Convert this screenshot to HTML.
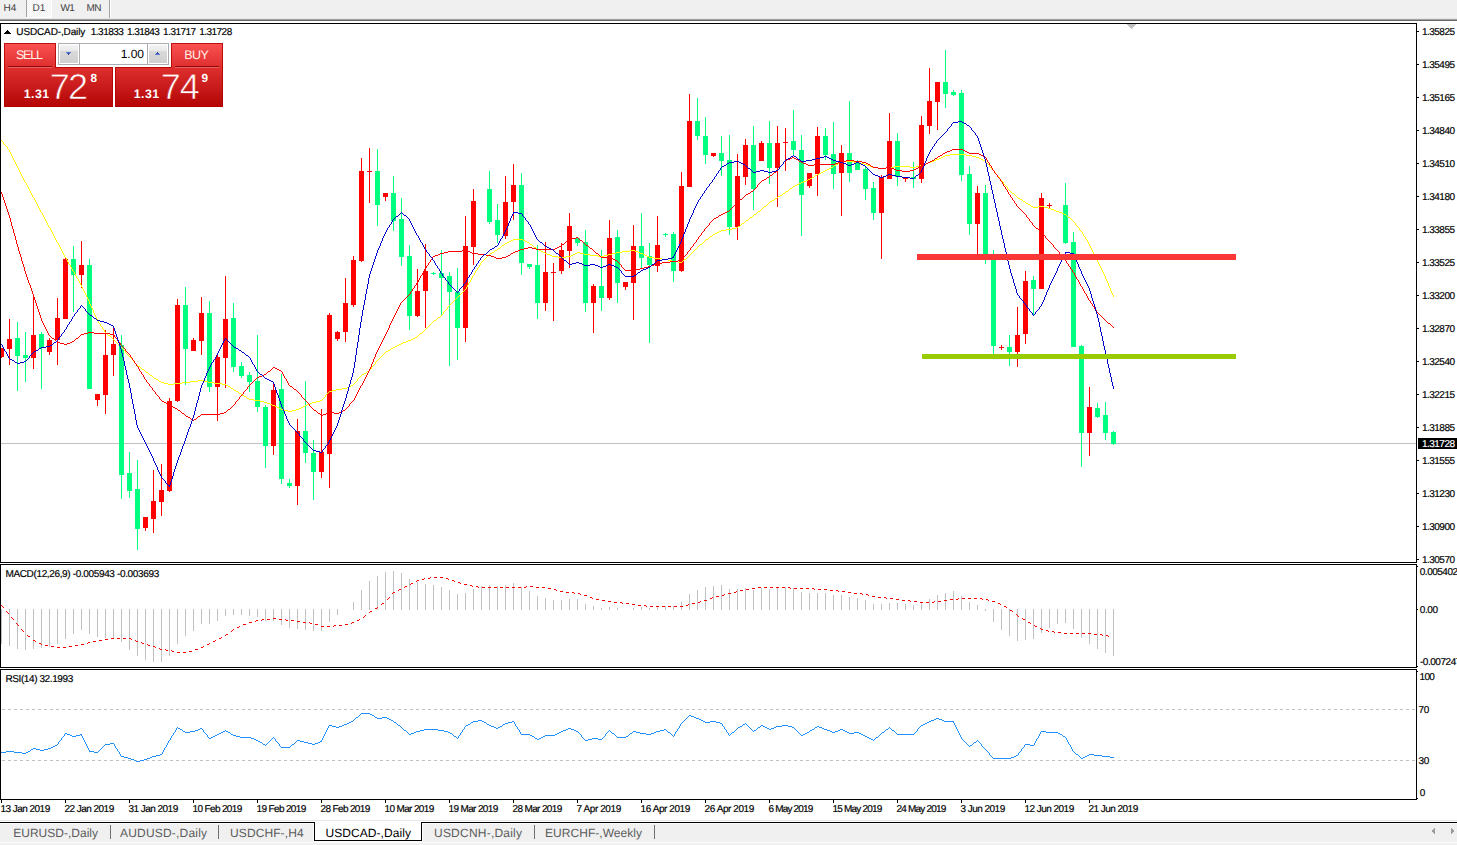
<!DOCTYPE html>
<html lang="en"><head><meta charset="utf-8"><title>USDCAD-,Daily</title>
<style>html,body{margin:0;padding:0;background:#fff;overflow:hidden}body{width:1457px;height:845px;position:relative}svg{position:absolute;left:0;top:0;display:block}text{font-family:"Liberation Sans",sans-serif;white-space:pre;text-rendering:geometricPrecision}.c{shape-rendering:crispEdges}</style></head><body>
<svg width="1457" height="845" viewBox="0 0 1457 845">
<defs><linearGradient id="gr" x1="0" y1="43" x2="0" y2="107" gradientUnits="userSpaceOnUse"><stop offset="0" stop-color="#fb5252"/><stop offset="0.36" stop-color="#e03030"/><stop offset="0.7" stop-color="#c81a1a"/><stop offset="1" stop-color="#b40404"/></linearGradient><linearGradient id="gb" x1="0" y1="0" x2="0" y2="1"><stop offset="0" stop-color="#f3f3f3"/><stop offset="0.33" stop-color="#e9e9e9"/><stop offset="0.33" stop-color="#d9d9d9"/><stop offset="1" stop-color="#d0d0d0"/></linearGradient><pattern id="chk" width="2" height="2" patternUnits="userSpaceOnUse"><rect width="2" height="2" fill="#f0f0f0"/><rect width="1" height="1" fill="#fff"/><rect x="1" y="1" width="1" height="1" fill="#fff"/></pattern></defs>
<g class="c">
<rect x="0" y="0" width="1457" height="845" fill="#fff" />
<rect x="0" y="0" width="1457" height="18" fill="#f0f0f0" />
<rect x="0" y="18" width="1457" height="1" fill="#e6e6e6" />
<rect x="0" y="19" width="1457" height="1" fill="#a0a0a0" />
<rect x="0" y="20" width="1457" height="1" fill="#696969" />
<rect x="27" y="0" width="24" height="17" fill="url(#chk)" />
<rect x="26" y="0" width="1" height="17" fill="#a0a0a0" />
<rect x="26" y="17" width="26" height="1" fill="#fff" />
<rect x="51" y="0" width="1" height="17" fill="#fff" />
<rect x="109" y="0" width="1" height="18" fill="#a0a0a0" />
<rect x="110" y="0" width="1" height="18" fill="#fff" />
<rect x="0" y="23" width="1417" height="1" fill="#000" />
<rect x="0" y="23" width="1" height="540" fill="#000" />
<rect x="0" y="562" width="1417" height="1" fill="#000" />
<rect x="1416" y="23" width="1" height="540" fill="#000" />
<rect x="1416" y="564" width="1" height="104" fill="#000" />
<rect x="1416" y="669" width="1" height="131" fill="#000" />
<rect x="0" y="564" width="1417" height="1" fill="#000" />
<rect x="0" y="564" width="1" height="104" fill="#000" />
<rect x="0" y="667" width="1417" height="1" fill="#000" />
<rect x="0" y="669" width="1417" height="1" fill="#000" />
<rect x="0" y="669" width="1" height="131" fill="#000" />
<rect x="0" y="799" width="1417" height="1" fill="#000" />
<path d="M1127 24h9v1h-1v1h-1v1h-1v1h-1v1h-1v-1h-1v-1h-1v-1h-1v-1h-1z" fill="#c0c0c0"/>
<rect x="1417" y="31" width="2" height="1" fill="#000" />
<rect x="1417" y="64" width="2" height="1" fill="#000" />
<rect x="1417" y="97" width="2" height="1" fill="#000" />
<rect x="1417" y="130" width="2" height="1" fill="#000" />
<rect x="1417" y="163" width="2" height="1" fill="#000" />
<rect x="1417" y="196" width="2" height="1" fill="#000" />
<rect x="1417" y="229" width="2" height="1" fill="#000" />
<rect x="1417" y="262" width="2" height="1" fill="#000" />
<rect x="1417" y="295" width="2" height="1" fill="#000" />
<rect x="1417" y="328" width="2" height="1" fill="#000" />
<rect x="1417" y="361" width="2" height="1" fill="#000" />
<rect x="1417" y="394" width="2" height="1" fill="#000" />
<rect x="1417" y="427" width="2" height="1" fill="#000" />
<rect x="1417" y="460" width="2" height="1" fill="#000" />
<rect x="1417" y="493" width="2" height="1" fill="#000" />
<rect x="1417" y="526" width="2" height="1" fill="#000" />
<rect x="1417" y="559" width="2" height="1" fill="#000" />
<rect x="1417" y="566" width="1" height="1" fill="#000" />
<rect x="1417" y="609" width="1" height="1" fill="#000" />
<rect x="1417" y="666" width="1" height="1" fill="#000" />
<rect x="1417" y="671" width="1" height="1" fill="#000" />
<rect x="1417" y="798" width="1" height="1" fill="#000" />
<rect x="1" y="800" width="1" height="3" fill="#000" />
<rect x="65" y="800" width="1" height="3" fill="#000" />
<rect x="129" y="800" width="1" height="3" fill="#000" />
<rect x="193" y="800" width="1" height="3" fill="#000" />
<rect x="257" y="800" width="1" height="3" fill="#000" />
<rect x="321" y="800" width="1" height="3" fill="#000" />
<rect x="385" y="800" width="1" height="3" fill="#000" />
<rect x="449" y="800" width="1" height="3" fill="#000" />
<rect x="513" y="800" width="1" height="3" fill="#000" />
<rect x="577" y="800" width="1" height="3" fill="#000" />
<rect x="641" y="800" width="1" height="3" fill="#000" />
<rect x="705" y="800" width="1" height="3" fill="#000" />
<rect x="769" y="800" width="1" height="3" fill="#000" />
<rect x="833" y="800" width="1" height="3" fill="#000" />
<rect x="897" y="800" width="1" height="3" fill="#000" />
<rect x="961" y="800" width="1" height="3" fill="#000" />
<rect x="1025" y="800" width="1" height="3" fill="#000" />
<rect x="1089" y="800" width="1" height="3" fill="#000" />
<rect x="1" y="443" width="1415" height="1" fill="#c0c0c0" />
<path d="M2 709.5H1416" stroke="#c0c0c0" stroke-width="1" stroke-dasharray="3 3" fill="none"/>
<path d="M2 760.5H1416" stroke="#c0c0c0" stroke-width="1" stroke-dasharray="3 3" fill="none"/>
<path d="M1 609v35h1v-35zM9 609v37h1v-37zM17 609v40h1v-40zM25 609v41h1v-41zM33 609v40h1v-40zM41 609v39h1v-39zM49 609v38h1v-38zM57 609v35h1v-35zM65 609v30h1v-30zM73 609v25h1v-25zM81 609v21h1v-21zM89 609v25h1v-25zM97 609v28h1v-28zM105 609v29h1v-29zM113 609v29h1v-29zM121 609v33h1v-33zM129 609v41h1v-41zM137 609v47h1v-47zM145 609v51h1v-51zM153 609v53h1v-53zM161 609v53h1v-53zM169 609v47h1v-47zM177 609v35h1v-35zM185 609v27h1v-27zM193 609v22h1v-22zM201 609v15h1v-15zM209 609v15h1v-15zM217 609v12h1v-12zM225 609v7h1v-7zM233 609v6h1v-6zM241 609v6h1v-6zM249 609v7h1v-7zM257 609v8h1v-8zM265 609v12h1v-12zM273 609v12h1v-12zM281 609v16h1v-16zM289 609v19h1v-19zM297 609v20h1v-20zM305 609v21h1v-21zM313 609v22h1v-22zM321 609v22h1v-22zM329 609v13h1v-13zM337 609v6h1v-6zM353 602v8h1v-8zM361 590v20h1v-20zM369 581v29h1v-29zM377 576v34h1v-34zM385 572v38h1v-38zM393 571v39h1v-39zM401 573v37h1v-37zM409 579v31h1v-31zM417 582v28h1v-28zM425 584v26h1v-26zM433 585v25h1v-25zM441 587v23h1v-23zM449 590v20h1v-20zM457 594v16h1v-16zM465 593v17h1v-17zM473 589v21h1v-21zM481 586v24h1v-24zM489 585v25h1v-25zM497 586v24h1v-24zM505 585v25h1v-25zM513 583v27h1v-27zM521 587v23h1v-23zM529 591v19h1v-19zM537 596v14h1v-14zM545 598v12h1v-12zM553 600v10h1v-10zM561 600v10h1v-10zM569 599v11h1v-11zM577 599v11h1v-11zM585 604v6h1v-6zM593 606v4h1v-4zM601 608v2h1v-2zM609 607v3h1v-3zM617 608v2h1v-2zM633 608v2h1v-2zM641 607v3h1v-3zM649 608v2h1v-2zM657 607v3h1v-3zM665 606v4h1v-4zM673 606v4h1v-4zM681 602v8h1v-8zM689 594v16h1v-16zM697 590v20h1v-20zM705 587v23h1v-23zM713 586v24h1v-24zM721 585v25h1v-25zM729 589v21h1v-21zM737 589v21h1v-21zM745 588v22h1v-22zM753 590v20h1v-20zM761 588v22h1v-22zM769 589v21h1v-21zM777 588v22h1v-22zM785 587v23h1v-23zM793 588v22h1v-22zM801 592v18h1v-18zM809 593v17h1v-17zM817 593v17h1v-17zM825 593v17h1v-17zM833 595v15h1v-15zM841 595v15h1v-15zM849 597v13h1v-13zM857 598v12h1v-12zM865 600v10h1v-10zM873 604v6h1v-6zM881 604v6h1v-6zM889 603v7h1v-7zM897 603v7h1v-7zM905 604v6h1v-6zM913 605v5h1v-5zM921 602v8h1v-8zM929 599v11h1v-11zM937 595v15h1v-15zM945 593v17h1v-17zM953 591v19h1v-19zM961 596v14h1v-14zM969 602v8h1v-8zM977 605v5h1v-5zM985 609v2h1v-2zM993 609v13h1v-13zM1001 609v21h1v-21zM1009 609v27h1v-27zM1017 609v32h1v-32zM1025 609v31h1v-31zM1033 609v30h1v-30zM1041 609v24h1v-24zM1049 609v19h1v-19zM1057 609v15h1v-15zM1065 609v14h1v-14zM1073 609v20h1v-20zM1081 609v29h1v-29zM1089 609v35h1v-35zM1097 609v40h1v-40zM1105 609v44h1v-44zM1113 609v47h1v-47z" fill="#c0c0c0"/>
</g>
<path class="c" d="M430 577h1v1h-1zM434 577h3v1h-3zM440 577h3v1h-3zM424 578h1v1h-1zM428 578h2v1h-2zM446 578h2v1h-2zM422 579h2v1h-2zM448 579h1v1h-1zM417 580h2v1h-2zM452 580h2v1h-2zM416 581h1v1h-1zM454 581h1v1h-1zM458 582h2v1h-2zM411 583h2v1h-2zM460 583h1v1h-1zM410 584h1v1h-1zM464 584h3v1h-3zM470 585h2v1h-2zM405 586h2v1h-2zM472 586h1v1h-1zM476 586h2v1h-2zM526 586h1v1h-1zM530 586h3v1h-3zM404 587h1v1h-1zM478 587h1v1h-1zM482 587h3v1h-3zM488 587h3v1h-3zM494 587h3v1h-3zM500 587h3v1h-3zM506 587h3v1h-3zM512 587h3v1h-3zM518 587h3v1h-3zM524 587h2v1h-2zM536 587h3v1h-3zM542 587h3v1h-3zM758 587h3v1h-3zM764 587h3v1h-3zM770 587h3v1h-3zM776 587h3v1h-3zM782 587h3v1h-3zM788 587h2v1h-2zM548 588h3v1h-3zM752 588h3v1h-3zM790 588h1v1h-1zM794 588h3v1h-3zM800 588h3v1h-3zM806 588h3v1h-3zM812 588h2v1h-2zM399 589h2v1h-2zM554 589h2v1h-2zM746 589h3v1h-3zM814 589h1v1h-1zM818 589h3v1h-3zM824 589h3v1h-3zM398 590h1v1h-1zM556 590h1v1h-1zM740 590h3v1h-3zM830 590h3v1h-3zM836 590h2v1h-2zM560 591h3v1h-3zM736 591h1v1h-1zM838 591h1v1h-1zM842 591h3v1h-3zM393 592h2v1h-2zM566 592h3v1h-3zM572 592h2v1h-2zM734 592h2v1h-2zM848 592h3v1h-3zM392 593h1v1h-1zM574 593h1v1h-1zM578 593h2v1h-2zM728 593h3v1h-3zM854 593h3v1h-3zM860 593h2v1h-2zM580 594h1v1h-1zM724 594h1v1h-1zM862 594h1v1h-1zM866 594h2v1h-2zM584 595h3v1h-3zM722 595h2v1h-2zM868 595h1v1h-1zM716 596h3v1h-3zM872 596h3v1h-3zM389 597h1v1h-1zM590 597h2v1h-2zM712 597h1v1h-1zM878 597h3v1h-3zM884 597h2v1h-2zM388 598h1v1h-1zM592 598h1v1h-1zM710 598h2v1h-2zM886 598h1v1h-1zM890 598h3v1h-3zM958 598h1v1h-1zM962 598h3v1h-3zM968 598h3v1h-3zM974 598h3v1h-3zM980 598h2v1h-2zM387 599h1v1h-1zM596 599h3v1h-3zM896 599h3v1h-3zM950 599h3v1h-3zM956 599h2v1h-2zM982 599h1v1h-1zM986 599h2v1h-2zM602 600h3v1h-3zM704 600h3v1h-3zM902 600h3v1h-3zM908 600h2v1h-2zM944 600h3v1h-3zM988 600h1v1h-1zM608 601h3v1h-3zM700 601h1v1h-1zM910 601h1v1h-1zM914 601h3v1h-3zM934 601h1v1h-1zM938 601h3v1h-3zM992 601h3v1h-3zM614 602h3v1h-3zM620 602h2v1h-2zM698 602h2v1h-2zM920 602h3v1h-3zM926 602h3v1h-3zM932 602h2v1h-2zM382 603h2v1h-2zM622 603h1v1h-1zM626 603h3v1h-3zM692 603h3v1h-3zM998 603h2v1h-2zM381 604h1v1h-1zM632 604h3v1h-3zM688 604h1v1h-1zM1000 604h1v1h-1zM1 605h1v1h-1zM638 605h3v1h-3zM644 605h2v1h-2zM686 605h2v1h-2zM2 606h1v1h-1zM646 606h1v1h-1zM650 606h3v1h-3zM656 606h3v1h-3zM662 606h3v1h-3zM668 606h3v1h-3zM674 606h3v1h-3zM680 606h3v1h-3zM1004 606h2v1h-2zM3 607h1v1h-1zM377 607h1v1h-1zM1006 607h1v1h-1zM375 608h2v1h-2zM1010 610h2v1h-2zM6 611h1v1h-1zM370 611h2v1h-2zM1012 611h1v1h-1zM7 612h1v1h-1zM369 612h1v1h-1zM8 613h1v1h-1zM1016 614h1v1h-1zM365 615h1v1h-1zM1017 615h1v1h-1zM364 616h1v1h-1zM1018 616h1v1h-1zM11 617h1v1h-1zM363 617h1v1h-1zM12 618h1v1h-1zM273 618h3v1h-3zM1022 618h1v1h-1zM13 619h1v1h-1zM262 619h2v1h-2zM267 619h3v1h-3zM279 619h3v1h-3zM285 619h1v1h-1zM359 619h1v1h-1zM1023 619h2v1h-2zM256 620h2v1h-2zM261 620h1v1h-1zM286 620h2v1h-2zM291 620h3v1h-3zM357 620h2v1h-2zM255 621h1v1h-1zM297 621h3v1h-3zM249 622h3v1h-3zM303 622h3v1h-3zM309 622h1v1h-1zM352 622h2v1h-2zM1028 622h2v1h-2zM16 623h1v1h-1zM310 623h2v1h-2zM351 623h1v1h-1zM1030 623h1v1h-1zM17 624h1v1h-1zM243 624h3v1h-3zM315 624h3v1h-3zM345 624h3v1h-3zM18 625h1v1h-1zM334 625h2v1h-2zM339 625h3v1h-3zM1034 625h1v1h-1zM239 626h1v1h-1zM321 626h3v1h-3zM327 626h3v1h-3zM333 626h1v1h-1zM1035 626h2v1h-2zM237 627h2v1h-2zM1040 628h1v1h-1zM21 629h1v1h-1zM233 629h1v1h-1zM1041 629h2v1h-2zM22 630h1v1h-1zM232 630h1v1h-1zM1046 630h2v1h-2zM23 631h1v1h-1zM231 631h1v1h-1zM1048 631h1v1h-1zM1052 631h2v1h-2zM1054 632h1v1h-1zM1058 632h3v1h-3zM1064 633h3v1h-3zM1070 633h3v1h-3zM1076 633h3v1h-3zM1082 633h3v1h-3zM1088 633h3v1h-3zM226 634h2v1h-2zM1094 634h3v1h-3zM1100 634h2v1h-2zM27 635h1v1h-1zM225 635h1v1h-1zM1102 635h1v1h-1zM1106 635h2v1h-2zM28 636h2v1h-2zM1108 636h1v1h-1zM221 637h1v1h-1zM111 638h3v1h-3zM117 638h3v1h-3zM123 638h3v1h-3zM129 638h2v1h-2zM219 638h2v1h-2zM105 639h3v1h-3zM131 639h1v1h-1zM33 640h2v1h-2zM99 640h3v1h-3zM135 640h1v1h-1zM215 640h1v1h-1zM35 641h1v1h-1zM93 641h3v1h-3zM136 641h2v1h-2zM213 641h2v1h-2zM88 642h2v1h-2zM141 642h1v1h-1zM39 643h2v1h-2zM87 643h1v1h-1zM142 643h2v1h-2zM209 643h1v1h-1zM41 644h1v1h-1zM81 644h3v1h-3zM147 644h1v1h-1zM207 644h2v1h-2zM45 645h3v1h-3zM75 645h3v1h-3zM148 645h2v1h-2zM51 646h3v1h-3zM69 646h3v1h-3zM153 646h2v1h-2zM203 646h1v1h-1zM57 647h3v1h-3zM63 647h3v1h-3zM155 647h1v1h-1zM201 647h2v1h-2zM159 648h1v1h-1zM160 649h2v1h-2zM165 649h1v1h-1zM195 649h3v1h-3zM166 650h2v1h-2zM171 650h1v1h-1zM172 651h2v1h-2zM189 651h3v1h-3zM177 652h3v1h-3zM183 652h3v1h-3z" fill="#ff0000"/>
<path class="c" d="M361 713h9v1h-9zM360 714h1v1h-1zM370 714h2v1h-2zM359 715h1v1h-1zM372 715h2v1h-2zM689 715h2v1h-2zM358 716h1v1h-1zM374 716h1v1h-1zM688 716h1v1h-1zM691 716h3v1h-3zM356 717h2v1h-2zM375 717h2v1h-2zM382 717h5v1h-5zM687 717h1v1h-1zM694 717h2v1h-2zM355 718h1v1h-1zM377 718h5v1h-5zM387 718h2v1h-2zM686 718h1v1h-1zM696 718h3v1h-3zM936 718h3v1h-3zM354 719h1v1h-1zM389 719h2v1h-2zM685 719h1v1h-1zM699 719h2v1h-2zM934 719h2v1h-2zM939 719h3v1h-3zM353 720h1v1h-1zM391 720h2v1h-2zM478 720h4v1h-4zM684 720h1v1h-1zM701 720h2v1h-2zM931 720h3v1h-3zM942 720h2v1h-2zM351 721h2v1h-2zM393 721h1v1h-1zM473 721h5v1h-5zM482 721h2v1h-2zM512 721h2v1h-2zM683 721h1v1h-1zM703 721h2v1h-2zM710 721h6v1h-6zM929 721h2v1h-2zM944 721h10v1h-10zM349 722h2v1h-2zM394 722h2v1h-2zM471 722h2v1h-2zM484 722h2v1h-2zM508 722h4v1h-4zM514 722h1v2h-1zM682 722h1v1h-1zM705 722h5v1h-5zM716 722h4v1h-4zM927 722h2v1h-2zM953 722h1v1h-1zM347 723h2v1h-2zM396 723h1v1h-1zM470 723h1v1h-1zM486 723h1v1h-1zM505 723h3v1h-3zM681 723h1v1h-1zM720 723h2v1h-2zM745 723h1v1h-1zM925 723h2v1h-2zM954 723h1v2h-1zM344 724h3v1h-3zM397 724h1v1h-1zM468 724h2v1h-2zM487 724h2v1h-2zM503 724h2v1h-2zM515 724h1v2h-1zM680 724h1v2h-1zM722 724h1v2h-1zM743 724h2v1h-2zM746 724h1v1h-1zM923 724h2v1h-2zM329 725h3v1h-3zM342 725h2v1h-2zM398 725h2v1h-2zM466 725h2v1h-2zM489 725h2v1h-2zM502 725h1v1h-1zM742 725h1v1h-1zM747 725h1v1h-1zM761 725h2v1h-2zM782 725h6v1h-6zM921 725h2v1h-2zM955 725h1v2h-1zM328 726h1v2h-1zM332 726h4v1h-4zM339 726h3v1h-3zM400 726h1v1h-1zM465 726h1v1h-1zM491 726h3v1h-3zM500 726h2v1h-2zM516 726h1v1h-1zM679 726h1v2h-1zM723 726h1v1h-1zM740 726h2v1h-2zM748 726h1v1h-1zM760 726h1v1h-1zM763 726h2v1h-2zM776 726h6v1h-6zM788 726h4v1h-4zM817 726h2v1h-2zM920 726h1v1h-1zM177 727h1v1h-1zM336 727h3v1h-3zM401 727h1v1h-1zM464 727h1v2h-1zM494 727h2v1h-2zM498 727h2v1h-2zM517 727h1v2h-1zM724 727h1v2h-1zM738 727h2v1h-2zM749 727h1v1h-1zM758 727h2v1h-2zM765 727h2v1h-2zM774 727h2v1h-2zM792 727h2v1h-2zM815 727h2v1h-2zM819 727h3v1h-3zM889 727h1v1h-1zM919 727h1v1h-1zM956 727h1v2h-1zM176 728h1v2h-1zM178 728h2v1h-2zM200 728h2v1h-2zM327 728h1v2h-1zM402 728h1v1h-1zM496 728h2v1h-2zM568 728h3v1h-3zM678 728h1v1h-1zM737 728h1v1h-1zM750 728h1v1h-1zM757 728h1v1h-1zM767 728h2v1h-2zM771 728h3v1h-3zM794 728h1v1h-1zM814 728h1v1h-1zM822 728h2v1h-2zM888 728h1v1h-1zM890 728h1v1h-1zM918 728h1v1h-1zM180 729h2v1h-2zM198 729h2v1h-2zM202 729h1v1h-1zM403 729h1v1h-1zM424 729h14v1h-14zM463 729h1v1h-1zM518 729h1v1h-1zM566 729h2v1h-2zM571 729h3v1h-3zM664 729h2v1h-2zM677 729h1v2h-1zM725 729h1v1h-1zM736 729h1v1h-1zM751 729h1v1h-1zM756 729h1v1h-1zM769 729h2v1h-2zM795 729h1v1h-1zM812 729h2v1h-2zM824 729h3v1h-3zM840 729h3v1h-3zM886 729h2v1h-2zM891 729h1v1h-1zM917 729h1v2h-1zM957 729h1v2h-1zM175 730h1v2h-1zM182 730h1v1h-1zM195 730h3v1h-3zM203 730h1v2h-1zM225 730h1v1h-1zM326 730h1v2h-1zM404 730h2v1h-2zM420 730h4v1h-4zM438 730h6v1h-6zM462 730h1v2h-1zM519 730h1v2h-1zM563 730h3v1h-3zM574 730h2v1h-2zM609 730h1v1h-1zM660 730h4v1h-4zM666 730h1v1h-1zM726 730h1v2h-1zM735 730h1v1h-1zM752 730h1v1h-1zM754 730h2v1h-2zM796 730h1v1h-1zM810 730h2v1h-2zM827 730h3v1h-3zM838 730h2v1h-2zM843 730h2v1h-2zM885 730h1v1h-1zM892 730h2v1h-2zM183 731h2v1h-2zM190 731h5v1h-5zM223 731h2v1h-2zM226 731h2v1h-2zM406 731h1v1h-1zM416 731h4v1h-4zM444 731h4v1h-4zM561 731h2v1h-2zM576 731h2v1h-2zM608 731h1v1h-1zM610 731h1v1h-1zM633 731h3v1h-3zM656 731h4v1h-4zM667 731h1v1h-1zM676 731h1v1h-1zM734 731h1v1h-1zM753 731h1v1h-1zM797 731h1v1h-1zM809 731h1v1h-1zM830 731h2v1h-2zM835 731h3v1h-3zM845 731h2v1h-2zM884 731h1v1h-1zM894 731h1v1h-1zM916 731h1v1h-1zM958 731h1v2h-1zM1041 731h5v1h-5zM174 732h1v1h-1zM185 732h5v1h-5zM204 732h1v1h-1zM221 732h2v1h-2zM228 732h2v1h-2zM325 732h1v2h-1zM407 732h1v1h-1zM414 732h2v1h-2zM448 732h2v1h-2zM461 732h1v1h-1zM520 732h1v2h-1zM559 732h2v1h-2zM578 732h1v1h-1zM607 732h1v1h-1zM611 732h1v1h-1zM632 732h1v1h-1zM636 732h4v1h-4zM654 732h2v1h-2zM668 732h2v1h-2zM675 732h1v2h-1zM727 732h1v1h-1zM732 732h2v1h-2zM798 732h1v1h-1zM807 732h2v1h-2zM832 732h3v1h-3zM847 732h2v1h-2zM854 732h5v1h-5zM882 732h2v1h-2zM895 732h1v1h-1zM915 732h1v1h-1zM1040 732h1v2h-1zM1046 732h12v1h-12zM65 733h2v1h-2zM173 733h1v2h-1zM205 733h1v1h-1zM219 733h2v1h-2zM230 733h1v1h-1zM408 733h1v1h-1zM411 733h3v1h-3zM450 733h2v1h-2zM460 733h1v2h-1zM557 733h2v1h-2zM579 733h1v1h-1zM606 733h1v1h-1zM612 733h2v1h-2zM630 733h2v1h-2zM640 733h6v1h-6zM651 733h3v1h-3zM670 733h1v1h-1zM728 733h1v2h-1zM731 733h1v1h-1zM799 733h1v1h-1zM805 733h2v1h-2zM849 733h5v1h-5zM859 733h2v1h-2zM881 733h1v1h-1zM896 733h1v1h-1zM914 733h1v1h-1zM959 733h1v2h-1zM1058 733h2v1h-2zM64 734h1v2h-1zM67 734h3v1h-3zM80 734h2v1h-2zM206 734h1v1h-1zM217 734h2v1h-2zM231 734h2v1h-2zM324 734h1v2h-1zM409 734h2v1h-2zM452 734h1v1h-1zM521 734h9v1h-9zM555 734h2v1h-2zM580 734h1v1h-1zM605 734h1v2h-1zM614 734h1v1h-1zM629 734h1v1h-1zM646 734h5v1h-5zM671 734h1v1h-1zM674 734h1v2h-1zM730 734h1v1h-1zM800 734h1v1h-1zM803 734h2v1h-2zM861 734h2v1h-2zM880 734h1v1h-1zM897 734h17v1h-17zM1039 734h1v2h-1zM1060 734h2v1h-2zM70 735h2v1h-2zM76 735h4v1h-4zM81 735h1v1h-1zM172 735h1v1h-1zM207 735h1v2h-1zM215 735h2v1h-2zM233 735h3v1h-3zM453 735h1v1h-1zM459 735h1v1h-1zM530 735h2v1h-2zM545 735h10v1h-10zM581 735h1v2h-1zM615 735h1v1h-1zM628 735h1v1h-1zM672 735h1v1h-1zM729 735h1v1h-1zM801 735h2v1h-2zM863 735h2v1h-2zM879 735h1v1h-1zM960 735h1v2h-1zM1062 735h1v1h-1zM63 736h1v1h-1zM72 736h4v1h-4zM82 736h1v2h-1zM171 736h1v2h-1zM213 736h2v1h-2zM236 736h4v1h-4zM323 736h1v2h-1zM454 736h2v1h-2zM458 736h1v2h-1zM532 736h2v1h-2zM543 736h2v1h-2zM604 736h1v1h-1zM616 736h1v1h-1zM626 736h2v1h-2zM673 736h1v1h-1zM865 736h2v1h-2zM878 736h1v1h-1zM1038 736h1v2h-1zM1063 736h2v1h-2zM62 737h1v1h-1zM208 737h1v1h-1zM211 737h2v1h-2zM240 737h11v1h-11zM273 737h1v1h-1zM456 737h1v1h-1zM534 737h1v1h-1zM541 737h2v1h-2zM582 737h1v1h-1zM603 737h1v1h-1zM617 737h9v1h-9zM867 737h2v1h-2zM876 737h2v1h-2zM961 737h1v2h-1zM1065 737h1v1h-1zM61 738h1v2h-1zM83 738h1v2h-1zM170 738h1v2h-1zM209 738h2v1h-2zM251 738h3v1h-3zM272 738h1v1h-1zM274 738h1v1h-1zM322 738h1v2h-1zM457 738h1v1h-1zM535 738h2v1h-2zM539 738h2v1h-2zM583 738h1v1h-1zM592 738h6v1h-6zM602 738h1v1h-1zM869 738h2v1h-2zM875 738h1v1h-1zM1037 738h1v1h-1zM1066 738h1v2h-1zM254 739h2v1h-2zM271 739h1v1h-1zM275 739h1v2h-1zM537 739h2v1h-2zM584 739h1v1h-1zM588 739h4v1h-4zM598 739h4v1h-4zM871 739h2v1h-2zM874 739h1v1h-1zM962 739h1v1h-1zM1036 739h1v2h-1zM60 740h1v1h-1zM84 740h1v2h-1zM169 740h1v1h-1zM256 740h2v1h-2zM270 740h1v1h-1zM297 740h3v1h-3zM321 740h1v2h-1zM585 740h3v1h-3zM873 740h1v1h-1zM963 740h1v1h-1zM977 740h1v1h-1zM1067 740h1v2h-1zM59 741h1v1h-1zM168 741h1v2h-1zM258 741h2v1h-2zM269 741h1v1h-1zM276 741h1v1h-1zM296 741h1v1h-1zM300 741h4v1h-4zM320 741h1v1h-1zM964 741h1v1h-1zM976 741h1v1h-1zM978 741h1v1h-1zM1035 741h1v2h-1zM58 742h1v2h-1zM85 742h1v2h-1zM260 742h2v1h-2zM268 742h1v1h-1zM277 742h1v1h-1zM295 742h1v1h-1zM304 742h4v1h-4zM318 742h2v1h-2zM965 742h1v1h-1zM974 742h2v1h-2zM979 742h1v1h-1zM1068 742h1v2h-1zM110 743h4v1h-4zM167 743h1v2h-1zM262 743h1v1h-1zM267 743h1v1h-1zM278 743h1v1h-1zM294 743h1v1h-1zM308 743h4v1h-4zM315 743h3v1h-3zM966 743h1v1h-1zM973 743h1v1h-1zM980 743h1v1h-1zM1034 743h1v2h-1zM57 744h1v1h-1zM86 744h1v2h-1zM105 744h5v1h-5zM114 744h1v2h-1zM263 744h2v1h-2zM266 744h1v1h-1zM279 744h1v2h-1zM292 744h2v1h-2zM312 744h3v1h-3zM967 744h1v1h-1zM972 744h1v1h-1zM981 744h1v2h-1zM1025 744h5v1h-5zM1069 744h1v1h-1zM55 745h2v1h-2zM104 745h1v1h-1zM166 745h1v2h-1zM265 745h1v1h-1zM291 745h1v1h-1zM968 745h1v1h-1zM970 745h2v1h-2zM1024 745h1v2h-1zM1030 745h4v1h-4zM1070 745h1v2h-1zM53 746h2v1h-2zM87 746h1v2h-1zM103 746h1v1h-1zM115 746h1v2h-1zM280 746h1v1h-1zM290 746h1v1h-1zM969 746h1v1h-1zM982 746h1v1h-1zM51 747h2v1h-2zM102 747h1v1h-1zM165 747h1v1h-1zM281 747h9v1h-9zM983 747h1v1h-1zM1023 747h1v1h-1zM1071 747h1v2h-1zM33 748h3v1h-3zM48 748h3v1h-3zM88 748h1v2h-1zM101 748h1v1h-1zM116 748h1v1h-1zM164 748h1v2h-1zM984 748h1v1h-1zM1022 748h1v1h-1zM31 749h2v1h-2zM36 749h4v1h-4zM44 749h4v1h-4zM100 749h1v1h-1zM117 749h1v2h-1zM985 749h1v1h-1zM1021 749h1v2h-1zM1072 749h1v2h-1zM30 750h1v1h-1zM40 750h4v1h-4zM89 750h1v2h-1zM99 750h1v1h-1zM163 750h1v2h-1zM986 750h1v1h-1zM6 751h8v1h-8zM28 751h2v1h-2zM90 751h4v1h-4zM98 751h1v1h-1zM118 751h1v1h-1zM987 751h1v1h-1zM1020 751h1v1h-1zM1073 751h1v1h-1zM1 752h5v1h-5zM14 752h8v1h-8zM26 752h2v1h-2zM94 752h4v1h-4zM119 752h1v2h-1zM162 752h1v2h-1zM988 752h1v1h-1zM1019 752h1v1h-1zM1074 752h1v1h-1zM22 753h4v1h-4zM989 753h1v2h-1zM1018 753h1v2h-1zM1075 753h1v1h-1zM120 754h1v2h-1zM160 754h2v1h-2zM1076 754h2v1h-2zM1089 754h5v1h-5zM156 755h4v1h-4zM990 755h1v1h-1zM1016 755h2v1h-2zM1078 755h1v1h-1zM1087 755h2v1h-2zM1094 755h8v1h-8zM121 756h3v1h-3zM152 756h4v1h-4zM991 756h1v1h-1zM1014 756h2v1h-2zM1079 756h1v1h-1zM1085 756h2v1h-2zM1102 756h8v1h-8zM124 757h4v1h-4zM150 757h2v1h-2zM992 757h1v1h-1zM1011 757h3v1h-3zM1080 757h1v1h-1zM1083 757h2v1h-2zM1110 757h4v1h-4zM128 758h3v1h-3zM147 758h3v1h-3zM993 758h18v1h-18zM1081 758h2v1h-2zM131 759h3v1h-3zM144 759h3v1h-3zM134 760h2v1h-2zM140 760h4v1h-4zM136 761h4v1h-4z" fill="#1e90ff"/>
<g class="c">
<path d="M1 348v10h1v-10zM1 348v9h3v-9zM9 319v46h1v-46zM7 339v10h5v-10zM33 295v74h1v-74zM31 335v23h5v-23zM49 338v17h1v-17zM47 340v12h5v-12zM57 298v67h1v-67zM55 318v22h5v-22zM65 257v62h1v-62zM63 259v60h5v-60zM81 241v47h1v-47zM79 265v10h5v-10zM97 394v12h1v-12zM95 394v6h5v-6zM105 330v84h1v-84zM103 355v40h5v-40zM113 328v48h1v-48zM111 344v11h5v-11zM145 517v14h1v-14zM143 517v11h5v-11zM153 470v63h1v-63zM151 501v18h5v-18zM161 464v52h1v-52zM159 490v12h5v-12zM169 398v94h1v-94zM167 401v90h5v-90zM177 299v103h1v-103zM175 305v96h5v-96zM193 338v13h1v-13zM191 340v11h5v-11zM201 297v58h1v-58zM199 313v28h5v-28zM217 354v67h1v-67zM215 357v30h5v-30zM225 276v112h1v-112zM223 319v39h5v-39zM273 382v73h1v-73zM271 390v56h5v-56zM297 419v86h1v-86zM295 431v55h5v-55zM321 409v69h1v-69zM319 452v20h5v-20zM329 313v175h1v-175zM327 315v139h5v-139zM337 331v10h1v-10zM335 332v7h5v-7zM345 278v64h1v-64zM343 303v29h5v-29zM353 256v51h1v-51zM351 260v45h5v-45zM361 158v104h1v-104zM359 171v90h5v-90zM369 148v55h1v-55zM367 171v1h5v-1zM385 193v8h1v-8zM383 193v4h5v-4zM417 269v48h1v-48zM415 291v25h5v-25zM425 244v84h1v-84zM423 271v20h5v-20zM465 216v126h1v-126zM463 246v82h5v-82zM473 189v76h1v-76zM471 201v46h5v-46zM505 176v63h1v-63zM503 202v34h5v-34zM513 164v56h1v-56zM511 185v17h5v-17zM545 242v69h1v-69zM543 272v31h5v-31zM553 263v58h1v-58zM551 272v1h5v-1zM561 243v31h1v-31zM559 250v21h5v-21zM569 213v55h1v-55zM567 226v25h5v-25zM593 284v49h1v-49zM591 286v17h5v-17zM609 220v80h1v-80zM607 238v60h5v-60zM625 282v8h1v-8zM623 282v5h5v-5zM633 225v95h1v-95zM631 246v37h5v-37zM657 216v56h1v-56zM655 245v21h5v-21zM681 172v100h1v-100zM679 186v85h5v-85zM689 94v93h1v-93zM687 121v66h5v-66zM713 153v4h1v-4zM711 153v3h5v-3zM737 154v86h1v-86zM735 176v51h5v-51zM745 139v46h1v-46zM743 145v32h5v-32zM761 141v20h1v-20zM759 143v18h5v-18zM777 126v81h1v-81zM775 143v25h5v-25zM785 128v43h1v-43zM783 142v1h5v-1zM809 173v15h1v-15zM807 173v13h5v-13zM817 127v69h1v-69zM815 136v38h5v-38zM841 145v71h1v-71zM839 153v20h5v-20zM881 175v84h1v-84zM879 177v36h5v-36zM889 113v66h1v-66zM887 141v38h5v-38zM905 177v5h1v-5zM903 178v1h5v-1zM921 116v67h1v-67zM919 125v54h5v-54zM929 68v66h1v-66zM927 101v25h5v-25zM937 82v48h1v-48zM935 82v20h5v-20zM977 186v69h1v-69zM975 193v31h5v-31zM1001 345v5h1v-5zM999 347v1h5v-1zM1017 307v60h1v-60zM1015 335v17h5v-17zM1025 271v73h1v-73zM1023 281v53h5v-53zM1041 193v96h1v-96zM1039 198v91h5v-91zM1049 203v5h1v-5zM1047 205v1h5v-1zM1089 387v69h1v-69zM1087 407v26h5v-26z" fill="#ff0000"/>
<path d="M17 322v69h1v-69zM15 338v18h5v-18zM25 332v50h1v-50zM23 355v3h5v-3zM41 332v57h1v-57zM39 334v14h5v-14zM73 246v66h1v-66zM71 259v16h5v-16zM89 259v130h1v-130zM87 265v124h5v-124zM121 335v164h1v-164zM119 345v130h5v-130zM129 452v46h1v-46zM127 473v18h5v-18zM137 460v90h1v-90zM135 489v40h5v-40zM185 287v98h1v-98zM183 305v44h5v-44zM209 301v91h1v-91zM207 313v74h5v-74zM233 303v69h1v-69zM231 318v49h5v-49zM241 362v16h1v-16zM239 366v10h5v-10zM249 372v20h1v-20zM247 375v7h5v-7zM257 335v77h1v-77zM255 381v26h5v-26zM265 405v63h1v-63zM263 407v39h5v-39zM281 374v110h1v-110zM279 389v90h5v-90zM289 479v9h1v-9zM287 483v3h5v-3zM305 381v82h1v-82zM303 431v22h5v-22zM313 440v60h1v-60zM311 453v19h5v-19zM377 149v77h1v-77zM375 171v34h5v-34zM393 176v55h1v-55zM391 193v28h5v-28zM401 198v68h1v-68zM399 219v38h5v-38zM409 245v85h1v-85zM407 256v60h5v-60zM433 272v3h1v-3zM431 273v1h5v-1zM441 250v65h1v-65zM439 273v5h5v-5zM449 272v94h1v-94zM447 276v16h5v-16zM457 268v92h1v-92zM455 292v36h5v-36zM489 171v53h1v-53zM487 189v33h5v-33zM497 204v39h1v-39zM495 220v15h5v-15zM521 173v102h1v-102zM519 185v78h5v-78zM529 264v5h1v-5zM527 264v3h5v-3zM537 245v74h1v-74zM535 265v38h5v-38zM577 238v8h1v-8zM575 238v5h5v-5zM585 230v82h1v-82zM583 242v61h5v-61zM601 250v61h1v-61zM599 286v12h5v-12zM617 230v73h1v-73zM615 237v46h5v-46zM641 213v55h1v-55zM639 246v12h5v-12zM649 243v100h1v-100zM647 256v9h5v-9zM665 233v4h1v-4zM663 234v1h5v-1zM673 232v50h1v-50zM671 234v37h5v-37zM697 98v42h1v-42zM695 121v15h5v-15zM705 117v47h1v-47zM703 136v19h5v-19zM721 136v40h1v-40zM719 153v8h5v-8zM729 135v100h1v-100zM727 160v67h5v-67zM753 126v84h1v-84zM751 145v44h5v-44zM769 121v63h1v-63zM767 143v25h5v-25zM793 110v45h1v-45zM791 141v9h5v-9zM801 135v101h1v-101zM799 150v45h5v-45zM825 128v32h1v-32zM823 136v19h5v-19zM833 122v67h1v-67zM831 154v20h5v-20zM849 101v81h1v-81zM847 153v20h5v-20zM857 160v10h1v-10zM855 161v9h5v-9zM865 167v33h1v-33zM863 169v20h5v-20zM873 182v38h1v-38zM871 188v25h5v-25zM897 133v53h1v-53zM895 141v36h5v-36zM913 162v26h1v-26zM911 177v2h5v-2zM945 50v58h1v-58zM943 82v12h5v-12zM953 90v6h1v-6zM951 92v3h5v-3zM961 90v91h1v-91zM959 93v82h5v-82zM969 166v69h1v-69zM967 174v50h5v-50zM985 185v79h1v-79zM983 193v65h5v-65zM993 250v104h1v-104zM991 256v90h5v-90zM1009 335v31h1v-31zM1007 347v5h5v-5zM1033 276v39h1v-39zM1031 280v9h5v-9zM1065 183v61h1v-61zM1063 205v38h5v-38zM1073 232v115h1v-115zM1071 242v105h5v-105zM1081 345v122h1v-122zM1079 346v87h5v-87zM1097 403v15h1v-15zM1095 408v9h5v-9zM1105 402v38h1v-38zM1103 415v18h5v-18zM1113 431v14h1v-14zM1111 432v12h5v-12z" fill="#00ff7f"/>
</g>
<path class="c" d="M1 140h1v1h-1zM2 141h1v1h-1zM3 142h1v2h-1zM4 144h1v1h-1zM5 145h1v1h-1zM6 146h1v1h-1zM7 147h1v2h-1zM8 149h1v1h-1zM9 150h1v2h-1zM10 152h1v2h-1zM11 154h1v2h-1zM950 154h16v1h-16zM945 155h5v1h-5zM966 155h6v1h-6zM12 156h1v2h-1zM943 156h2v1h-2zM972 156h4v1h-4zM941 157h2v1h-2zM976 157h3v1h-3zM13 158h1v2h-1zM939 158h2v1h-2zM979 158h2v1h-2zM936 159h3v1h-3zM981 159h2v1h-2zM14 160h1v2h-1zM934 160h2v1h-2zM983 160h2v1h-2zM841 161h13v1h-13zM931 161h3v1h-3zM985 161h1v1h-1zM15 162h1v2h-1zM839 162h2v1h-2zM854 162h6v1h-6zM928 162h3v1h-3zM986 162h1v1h-1zM838 163h1v1h-1zM860 163h4v1h-4zM926 163h2v1h-2zM987 163h1v1h-1zM16 164h1v2h-1zM836 164h2v1h-2zM864 164h3v1h-3zM923 164h3v1h-3zM988 164h1v1h-1zM834 165h2v1h-2zM867 165h3v1h-3zM920 165h3v1h-3zM989 165h1v2h-1zM17 166h1v2h-1zM833 166h1v1h-1zM870 166h2v1h-2zM894 166h16v1h-16zM916 166h4v1h-4zM831 167h2v1h-2zM872 167h6v1h-6zM886 167h8v1h-8zM910 167h6v1h-6zM990 167h1v1h-1zM18 168h1v2h-1zM829 168h2v1h-2zM878 168h8v1h-8zM991 168h1v1h-1zM827 169h2v1h-2zM992 169h1v1h-1zM19 170h1v2h-1zM825 170h2v1h-2zM993 170h1v1h-1zM823 171h2v1h-2zM994 171h1v1h-1zM20 172h1v2h-1zM821 172h2v1h-2zM995 172h1v2h-1zM819 173h2v1h-2zM21 174h1v2h-1zM817 174h2v1h-2zM996 174h1v1h-1zM815 175h2v1h-2zM997 175h1v1h-1zM22 176h1v2h-1zM814 176h1v1h-1zM998 176h1v1h-1zM812 177h2v1h-2zM999 177h1v2h-1zM23 178h1v2h-1zM810 178h2v1h-2zM808 179h2v1h-2zM1000 179h1v1h-1zM24 180h1v2h-1zM806 180h2v1h-2zM1001 180h1v1h-1zM803 181h3v1h-3zM1002 181h1v1h-1zM25 182h1v1h-1zM801 182h2v1h-2zM1003 182h1v2h-1zM26 183h1v2h-1zM799 183h2v1h-2zM797 184h2v1h-2zM1004 184h1v1h-1zM27 185h1v2h-1zM795 185h2v1h-2zM1005 185h1v1h-1zM793 186h2v1h-2zM1006 186h1v1h-1zM28 187h1v2h-1zM792 187h1v1h-1zM1007 187h1v2h-1zM790 188h2v1h-2zM29 189h1v2h-1zM789 189h1v1h-1zM1008 189h1v1h-1zM788 190h1v1h-1zM1009 190h1v1h-1zM30 191h1v2h-1zM786 191h2v1h-2zM1010 191h1v1h-1zM785 192h1v1h-1zM1011 192h1v1h-1zM31 193h1v2h-1zM783 193h2v1h-2zM1012 193h2v1h-2zM782 194h1v1h-1zM1014 194h1v1h-1zM32 195h1v2h-1zM780 195h2v1h-2zM1015 195h1v1h-1zM778 196h2v1h-2zM1016 196h1v1h-1zM33 197h1v1h-1zM777 197h1v1h-1zM1017 197h1v1h-1zM34 198h1v2h-1zM775 198h2v1h-2zM1018 198h2v1h-2zM774 199h1v1h-1zM1020 199h2v1h-2zM35 200h1v2h-1zM772 200h2v1h-2zM1022 200h1v1h-1zM770 201h2v1h-2zM1023 201h2v1h-2zM36 202h1v2h-1zM769 202h1v1h-1zM1025 202h1v1h-1zM768 203h1v1h-1zM1026 203h2v1h-2zM37 204h1v2h-1zM767 204h1v1h-1zM1028 204h2v1h-2zM766 205h1v1h-1zM1030 205h1v1h-1zM38 206h1v2h-1zM764 206h2v1h-2zM1031 206h2v1h-2zM1038 206h6v1h-6zM763 207h1v1h-1zM1033 207h5v1h-5zM1044 207h4v1h-4zM39 208h1v2h-1zM762 208h1v1h-1zM1048 208h3v1h-3zM761 209h1v1h-1zM1051 209h3v1h-3zM40 210h1v2h-1zM760 210h1v1h-1zM1054 210h2v1h-2zM758 211h2v1h-2zM1056 211h3v1h-3zM41 212h1v1h-1zM757 212h1v1h-1zM1059 212h3v1h-3zM42 213h1v2h-1zM756 213h1v1h-1zM1062 213h2v1h-2zM754 214h2v1h-2zM1064 214h2v1h-2zM43 215h1v2h-1zM753 215h1v1h-1zM1066 215h1v1h-1zM752 216h1v1h-1zM1067 216h1v1h-1zM44 217h1v2h-1zM750 217h2v1h-2zM1068 217h2v1h-2zM749 218h1v1h-1zM1070 218h1v1h-1zM45 219h1v2h-1zM748 219h1v1h-1zM1071 219h1v1h-1zM746 220h2v1h-2zM1072 220h1v1h-1zM46 221h1v2h-1zM745 221h1v1h-1zM1073 221h1v1h-1zM744 222h1v1h-1zM1074 222h1v1h-1zM47 223h1v2h-1zM742 223h2v1h-2zM1075 223h1v2h-1zM741 224h1v1h-1zM48 225h1v2h-1zM740 225h1v1h-1zM1076 225h1v1h-1zM738 226h2v1h-2zM1077 226h1v1h-1zM49 227h1v1h-1zM736 227h2v1h-2zM1078 227h1v1h-1zM50 228h1v2h-1zM732 228h4v1h-4zM1079 228h1v2h-1zM726 229h6v1h-6zM51 230h1v2h-1zM721 230h5v1h-5zM1080 230h1v1h-1zM719 231h2v1h-2zM1081 231h1v1h-1zM52 232h1v2h-1zM717 232h2v1h-2zM1082 232h1v2h-1zM715 233h2v1h-2zM53 234h1v2h-1zM713 234h2v1h-2zM1083 234h1v2h-1zM712 235h1v1h-1zM54 236h1v2h-1zM710 236h2v1h-2zM1084 236h1v1h-1zM709 237h1v1h-1zM1085 237h1v2h-1zM55 238h1v2h-1zM708 238h1v1h-1zM513 239h10v1h-10zM706 239h2v1h-2zM1086 239h1v1h-1zM56 240h1v2h-1zM511 240h2v1h-2zM523 240h2v1h-2zM705 240h1v1h-1zM1087 240h1v2h-1zM509 241h2v1h-2zM525 241h2v1h-2zM704 241h1v1h-1zM57 242h1v1h-1zM507 242h2v1h-2zM527 242h2v1h-2zM703 242h1v1h-1zM1088 242h1v2h-1zM58 243h1v2h-1zM505 243h2v1h-2zM529 243h1v1h-1zM702 243h1v1h-1zM504 244h1v1h-1zM530 244h2v1h-2zM700 244h2v1h-2zM1089 244h1v2h-1zM59 245h1v2h-1zM502 245h2v1h-2zM532 245h1v1h-1zM699 245h1v1h-1zM501 246h1v1h-1zM533 246h1v1h-1zM698 246h1v1h-1zM1090 246h1v2h-1zM60 247h1v2h-1zM500 247h1v1h-1zM534 247h2v1h-2zM697 247h1v1h-1zM498 248h2v1h-2zM536 248h1v1h-1zM696 248h1v1h-1zM1091 248h1v2h-1zM61 249h1v2h-1zM497 249h1v1h-1zM537 249h2v1h-2zM695 249h1v1h-1zM495 250h2v1h-2zM539 250h2v1h-2zM630 250h5v1h-5zM694 250h1v1h-1zM1092 250h1v2h-1zM62 251h1v2h-1zM494 251h1v1h-1zM541 251h2v1h-2zM622 251h8v1h-8zM635 251h3v1h-3zM693 251h1v1h-1zM492 252h2v1h-2zM543 252h2v1h-2zM577 252h3v1h-3zM616 252h6v1h-6zM638 252h2v1h-2zM692 252h1v1h-1zM1093 252h1v2h-1zM63 253h1v2h-1zM490 253h2v1h-2zM545 253h2v1h-2zM575 253h2v1h-2zM580 253h4v1h-4zM612 253h4v1h-4zM640 253h3v1h-3zM691 253h1v1h-1zM489 254h1v1h-1zM547 254h3v1h-3zM573 254h2v1h-2zM584 254h6v1h-6zM608 254h4v1h-4zM643 254h2v1h-2zM690 254h1v1h-1zM1094 254h1v2h-1zM64 255h1v2h-1zM488 255h1v1h-1zM550 255h2v1h-2zM571 255h2v1h-2zM590 255h8v1h-8zM604 255h4v1h-4zM645 255h2v1h-2zM689 255h1v1h-1zM487 256h1v1h-1zM552 256h6v1h-6zM566 256h5v1h-5zM598 256h6v1h-6zM647 256h2v1h-2zM688 256h1v1h-1zM1095 256h1v2h-1zM65 257h1v1h-1zM486 257h1v1h-1zM558 257h8v1h-8zM649 257h5v1h-5zM687 257h1v1h-1zM66 258h1v2h-1zM485 258h1v1h-1zM654 258h8v1h-8zM686 258h1v1h-1zM1096 258h1v2h-1zM484 259h1v1h-1zM662 259h6v1h-6zM684 259h2v1h-2zM67 260h1v2h-1zM483 260h1v1h-1zM668 260h4v1h-4zM683 260h1v1h-1zM1097 260h1v2h-1zM482 261h1v1h-1zM672 261h6v1h-6zM682 261h1v1h-1zM68 262h1v2h-1zM481 262h1v1h-1zM678 262h4v1h-4zM1098 262h1v2h-1zM480 263h1v2h-1zM69 264h1v1h-1zM1099 264h1v2h-1zM70 265h1v2h-1zM479 265h1v2h-1zM1100 266h1v2h-1zM71 267h1v2h-1zM478 267h1v1h-1zM477 268h1v2h-1zM1101 268h1v2h-1zM72 269h1v2h-1zM476 270h1v1h-1zM1102 270h1v2h-1zM73 271h1v1h-1zM475 271h1v2h-1zM74 272h1v2h-1zM1103 272h1v2h-1zM474 273h1v2h-1zM75 274h1v2h-1zM1104 274h1v2h-1zM473 275h1v1h-1zM76 276h1v2h-1zM472 276h1v2h-1zM1105 276h1v3h-1zM77 278h1v1h-1zM471 278h1v2h-1zM78 279h1v2h-1zM1106 279h1v2h-1zM470 280h1v2h-1zM79 281h1v2h-1zM1107 281h1v2h-1zM469 282h1v1h-1zM80 283h1v2h-1zM468 283h1v2h-1zM1108 283h1v3h-1zM81 285h1v2h-1zM467 285h1v2h-1zM1109 286h1v2h-1zM82 287h1v2h-1zM466 287h1v2h-1zM1110 288h1v3h-1zM83 289h1v2h-1zM465 289h1v1h-1zM464 290h1v1h-1zM84 291h1v2h-1zM463 291h1v1h-1zM1111 291h1v2h-1zM462 292h1v1h-1zM85 293h1v2h-1zM461 293h1v1h-1zM1112 293h1v2h-1zM460 294h1v1h-1zM86 295h1v2h-1zM459 295h1v1h-1zM1113 295h1v2h-1zM458 296h1v1h-1zM87 297h1v2h-1zM457 297h1v1h-1zM456 298h1v1h-1zM88 299h1v2h-1zM455 299h1v1h-1zM454 300h1v1h-1zM89 301h1v3h-1zM453 301h1v1h-1zM452 302h1v1h-1zM451 303h1v1h-1zM90 304h1v2h-1zM450 304h1v1h-1zM449 305h1v1h-1zM91 306h1v2h-1zM448 306h1v1h-1zM447 307h1v2h-1zM92 308h1v2h-1zM446 309h1v1h-1zM93 310h1v3h-1zM445 310h1v1h-1zM444 311h1v1h-1zM443 312h1v2h-1zM94 313h1v2h-1zM442 314h1v1h-1zM95 315h1v2h-1zM441 315h1v1h-1zM440 316h1v1h-1zM96 317h1v2h-1zM438 317h2v1h-2zM437 318h1v1h-1zM97 319h1v2h-1zM436 319h1v1h-1zM434 320h2v1h-2zM98 321h1v2h-1zM433 321h1v1h-1zM432 322h1v1h-1zM99 323h1v1h-1zM431 323h1v1h-1zM100 324h1v2h-1zM430 324h1v1h-1zM429 325h1v1h-1zM101 326h1v1h-1zM428 326h1v1h-1zM102 327h1v2h-1zM427 327h1v1h-1zM426 328h1v1h-1zM103 329h1v1h-1zM425 329h1v1h-1zM104 330h1v2h-1zM424 330h1v1h-1zM423 331h1v1h-1zM105 332h1v1h-1zM422 332h1v1h-1zM106 333h1v1h-1zM420 333h2v1h-2zM107 334h1v1h-1zM419 334h1v1h-1zM108 335h2v1h-2zM418 335h1v1h-1zM110 336h1v1h-1zM417 336h1v1h-1zM111 337h1v1h-1zM415 337h2v1h-2zM112 338h1v1h-1zM413 338h2v1h-2zM113 339h1v1h-1zM411 339h2v1h-2zM114 340h1v1h-1zM408 340h3v1h-3zM115 341h1v1h-1zM406 341h2v1h-2zM116 342h1v1h-1zM403 342h3v1h-3zM117 343h1v1h-1zM401 343h2v1h-2zM118 344h1v1h-1zM399 344h2v1h-2zM119 345h1v1h-1zM397 345h2v1h-2zM120 346h1v1h-1zM395 346h2v1h-2zM121 347h1v1h-1zM393 347h2v1h-2zM122 348h1v1h-1zM391 348h2v1h-2zM123 349h1v1h-1zM390 349h1v1h-1zM124 350h1v1h-1zM388 350h2v1h-2zM125 351h1v2h-1zM386 351h2v1h-2zM385 352h1v1h-1zM126 353h1v1h-1zM384 353h1v1h-1zM127 354h1v1h-1zM383 354h1v1h-1zM128 355h1v1h-1zM382 355h1v1h-1zM129 356h1v1h-1zM381 356h1v1h-1zM130 357h1v1h-1zM380 357h1v1h-1zM131 358h1v1h-1zM379 358h1v1h-1zM132 359h1v1h-1zM378 359h1v1h-1zM133 360h1v2h-1zM377 360h1v1h-1zM376 361h1v1h-1zM134 362h1v1h-1zM375 362h1v2h-1zM135 363h1v1h-1zM136 364h1v1h-1zM374 364h1v1h-1zM137 365h1v1h-1zM373 365h1v1h-1zM138 366h2v1h-2zM372 366h1v1h-1zM140 367h1v1h-1zM371 367h1v2h-1zM141 368h1v1h-1zM142 369h2v1h-2zM370 369h1v1h-1zM144 370h1v1h-1zM369 370h1v1h-1zM145 371h1v1h-1zM367 371h2v1h-2zM146 372h2v1h-2zM366 372h1v1h-1zM148 373h1v1h-1zM364 373h2v1h-2zM149 374h1v1h-1zM362 374h2v1h-2zM150 375h2v1h-2zM361 375h1v1h-1zM152 376h1v1h-1zM360 376h1v1h-1zM153 377h1v1h-1zM359 377h1v1h-1zM154 378h2v1h-2zM358 378h1v1h-1zM156 379h2v1h-2zM357 379h1v2h-1zM158 380h1v1h-1zM198 380h6v1h-6zM159 381h2v1h-2zM190 381h8v1h-8zM204 381h4v1h-4zM356 381h1v1h-1zM161 382h3v1h-3zM182 382h8v1h-8zM208 382h6v1h-6zM355 382h1v1h-1zM164 383h4v1h-4zM174 383h8v1h-8zM214 383h8v1h-8zM354 383h1v1h-1zM168 384h6v1h-6zM222 384h4v1h-4zM353 384h1v1h-1zM226 385h2v1h-2zM351 385h2v1h-2zM228 386h2v1h-2zM349 386h2v1h-2zM230 387h1v1h-1zM347 387h2v1h-2zM231 388h2v1h-2zM342 388h5v1h-5zM233 389h1v1h-1zM336 389h6v1h-6zM234 390h2v1h-2zM332 390h4v1h-4zM236 391h2v1h-2zM329 391h3v1h-3zM238 392h1v1h-1zM328 392h1v1h-1zM239 393h2v1h-2zM327 393h1v1h-1zM241 394h1v1h-1zM326 394h1v1h-1zM242 395h2v1h-2zM325 395h1v2h-1zM244 396h2v1h-2zM246 397h1v1h-1zM324 397h1v1h-1zM247 398h2v1h-2zM323 398h1v1h-1zM249 399h5v1h-5zM322 399h1v1h-1zM254 400h6v1h-6zM320 400h2v1h-2zM260 401h4v1h-4zM316 401h4v1h-4zM264 402h3v1h-3zM312 402h4v1h-4zM267 403h3v1h-3zM310 403h2v1h-2zM270 404h2v1h-2zM307 404h3v1h-3zM272 405h3v1h-3zM305 405h2v1h-2zM275 406h2v1h-2zM303 406h2v1h-2zM277 407h2v1h-2zM301 407h2v1h-2zM279 408h2v1h-2zM299 408h2v1h-2zM281 409h3v1h-3zM296 409h3v1h-3zM284 410h4v1h-4zM292 410h4v1h-4zM288 411h4v1h-4z" fill="#ffff00"/>
<path class="c" d="M952 149h11v1h-11zM950 150h2v1h-2zM963 150h2v1h-2zM947 151h3v1h-3zM965 151h2v1h-2zM945 152h2v1h-2zM967 152h2v1h-2zM943 153h2v1h-2zM969 153h10v1h-10zM942 154h1v1h-1zM979 154h2v1h-2zM940 155h2v1h-2zM981 155h2v1h-2zM938 156h2v1h-2zM983 156h2v1h-2zM792 157h2v1h-2zM937 157h1v1h-1zM985 157h1v1h-1zM790 158h2v1h-2zM794 158h2v1h-2zM935 158h2v1h-2zM986 158h1v2h-1zM787 159h3v1h-3zM796 159h2v1h-2zM934 159h1v1h-1zM785 160h2v1h-2zM798 160h1v1h-1zM846 160h8v1h-8zM932 160h2v1h-2zM987 160h1v2h-1zM784 161h1v1h-1zM799 161h2v1h-2zM840 161h6v1h-6zM854 161h8v1h-8zM930 161h2v1h-2zM783 162h1v2h-1zM801 162h2v1h-2zM838 162h2v1h-2zM862 162h4v1h-4zM928 162h2v1h-2zM988 162h1v1h-1zM803 163h3v1h-3zM835 163h3v1h-3zM866 163h2v1h-2zM926 163h2v1h-2zM989 163h1v2h-1zM782 164h1v1h-1zM806 164h2v1h-2zM814 164h21v1h-21zM868 164h2v1h-2zM923 164h3v1h-3zM781 165h1v1h-1zM808 165h6v1h-6zM870 165h1v1h-1zM921 165h2v1h-2zM990 165h1v1h-1zM780 166h1v1h-1zM871 166h2v1h-2zM919 166h2v1h-2zM991 166h1v2h-1zM779 167h1v2h-1zM873 167h5v1h-5zM886 167h5v1h-5zM918 167h1v1h-1zM878 168h8v1h-8zM891 168h3v1h-3zM916 168h2v1h-2zM992 168h1v2h-1zM778 169h1v1h-1zM894 169h2v1h-2zM914 169h2v1h-2zM777 170h1v1h-1zM896 170h6v1h-6zM910 170h4v1h-4zM993 170h1v1h-1zM776 171h1v1h-1zM902 171h8v1h-8zM994 171h1v2h-1zM774 172h2v1h-2zM773 173h1v1h-1zM995 173h1v1h-1zM772 174h1v1h-1zM996 174h1v1h-1zM770 175h2v1h-2zM997 175h1v2h-1zM769 176h1v1h-1zM767 177h2v1h-2zM998 177h1v1h-1zM766 178h1v1h-1zM999 178h1v1h-1zM764 179h2v1h-2zM1000 179h1v2h-1zM762 180h2v1h-2zM761 181h1v1h-1zM1001 181h1v1h-1zM760 182h1v1h-1zM1002 182h1v2h-1zM759 183h1v1h-1zM758 184h1v1h-1zM1003 184h1v2h-1zM757 185h1v2h-1zM1004 186h1v1h-1zM756 187h1v1h-1zM1005 187h1v2h-1zM755 188h1v1h-1zM754 189h1v1h-1zM1006 189h1v1h-1zM753 190h1v1h-1zM1007 190h1v2h-1zM751 191h2v1h-2zM1 192h1v2h-1zM750 192h1v1h-1zM1008 192h1v2h-1zM748 193h2v1h-2zM2 194h1v3h-1zM746 194h2v1h-2zM1009 194h1v1h-1zM745 195h1v1h-1zM1010 195h1v2h-1zM744 196h1v1h-1zM3 197h1v3h-1zM743 197h1v1h-1zM1011 197h1v1h-1zM742 198h1v1h-1zM1012 198h1v2h-1zM740 199h2v1h-2zM4 200h1v3h-1zM739 200h1v1h-1zM1013 200h1v1h-1zM738 201h1v1h-1zM1014 201h1v2h-1zM737 202h1v1h-1zM5 203h1v3h-1zM736 203h1v1h-1zM1015 203h1v1h-1zM735 204h1v1h-1zM1016 204h1v2h-1zM734 205h1v1h-1zM6 206h1v3h-1zM733 206h1v1h-1zM1017 206h1v1h-1zM732 207h1v1h-1zM1018 207h1v1h-1zM731 208h1v1h-1zM1019 208h1v1h-1zM7 209h1v3h-1zM730 209h1v1h-1zM1020 209h1v1h-1zM729 210h1v1h-1zM1021 210h1v1h-1zM727 211h2v1h-2zM1022 211h1v1h-1zM8 212h1v3h-1zM725 212h2v1h-2zM1023 212h1v1h-1zM723 213h2v1h-2zM1024 213h1v1h-1zM721 214h2v1h-2zM1025 214h1v1h-1zM9 215h1v3h-1zM719 215h2v1h-2zM1026 215h1v2h-1zM718 216h1v1h-1zM716 217h2v1h-2zM1027 217h1v1h-1zM10 218h1v4h-1zM714 218h2v1h-2zM1028 218h1v1h-1zM713 219h1v1h-1zM1029 219h1v2h-1zM712 220h1v1h-1zM711 221h1v1h-1zM1030 221h1v1h-1zM11 222h1v4h-1zM710 222h1v1h-1zM1031 222h1v1h-1zM709 223h1v2h-1zM1032 223h1v2h-1zM708 225h1v1h-1zM1033 225h1v1h-1zM12 226h1v3h-1zM707 226h1v1h-1zM1034 226h1v1h-1zM706 227h1v1h-1zM1035 227h1v1h-1zM705 228h1v1h-1zM1036 228h2v1h-2zM13 229h1v4h-1zM704 229h1v2h-1zM1038 229h1v1h-1zM1039 230h1v1h-1zM703 231h1v1h-1zM1040 231h1v1h-1zM702 232h1v1h-1zM1041 232h1v1h-1zM14 233h1v3h-1zM701 233h1v2h-1zM1042 233h1v1h-1zM1043 234h1v1h-1zM700 235h1v1h-1zM1044 235h1v1h-1zM15 236h1v4h-1zM699 236h1v1h-1zM1045 236h1v2h-1zM576 237h2v1h-2zM698 237h1v2h-1zM572 238h4v1h-4zM578 238h1v1h-1zM1046 238h1v1h-1zM569 239h3v1h-3zM579 239h1v1h-1zM697 239h1v1h-1zM1047 239h1v1h-1zM16 240h1v4h-1zM568 240h1v1h-1zM580 240h2v1h-2zM696 240h1v2h-1zM1048 240h1v1h-1zM566 241h2v1h-2zM582 241h1v1h-1zM1049 241h1v1h-1zM565 242h1v1h-1zM583 242h1v1h-1zM695 242h1v1h-1zM1050 242h1v1h-1zM564 243h1v1h-1zM584 243h1v1h-1zM694 243h1v1h-1zM1051 243h1v1h-1zM17 244h1v3h-1zM562 244h2v1h-2zM585 244h1v1h-1zM693 244h1v2h-1zM1052 244h1v1h-1zM561 245h1v1h-1zM586 245h2v1h-2zM1053 245h1v2h-1zM559 246h2v1h-2zM588 246h1v1h-1zM692 246h1v1h-1zM18 247h1v4h-1zM528 247h4v1h-4zM557 247h2v1h-2zM589 247h1v1h-1zM691 247h1v1h-1zM1054 247h1v1h-1zM524 248h4v1h-4zM532 248h4v1h-4zM555 248h2v1h-2zM590 248h2v1h-2zM690 248h1v2h-1zM1055 248h1v1h-1zM520 249h4v1h-4zM536 249h19v1h-19zM592 249h1v1h-1zM1056 249h1v1h-1zM462 250h5v1h-5zM518 250h2v1h-2zM593 250h1v1h-1zM689 250h1v1h-1zM1057 250h1v1h-1zM19 251h1v3h-1zM448 251h14v1h-14zM467 251h3v1h-3zM515 251h3v1h-3zM594 251h1v1h-1zM688 251h1v1h-1zM1058 251h1v1h-1zM444 252h4v1h-4zM470 252h2v1h-2zM513 252h2v1h-2zM595 252h1v1h-1zM687 252h1v2h-1zM1059 252h1v2h-1zM440 253h4v1h-4zM472 253h6v1h-6zM511 253h2v1h-2zM596 253h2v1h-2zM20 254h1v3h-1zM438 254h2v1h-2zM478 254h8v1h-8zM510 254h1v1h-1zM598 254h1v1h-1zM686 254h1v1h-1zM1060 254h1v1h-1zM435 255h3v1h-3zM486 255h5v1h-5zM508 255h2v1h-2zM599 255h1v1h-1zM685 255h1v1h-1zM1061 255h1v1h-1zM433 256h2v1h-2zM491 256h3v1h-3zM506 256h2v1h-2zM600 256h1v1h-1zM684 256h1v1h-1zM1062 256h1v1h-1zM21 257h1v4h-1zM432 257h1v2h-1zM494 257h2v1h-2zM502 257h4v1h-4zM601 257h10v1h-10zM683 257h1v2h-1zM1063 257h1v2h-1zM496 258h6v1h-6zM611 258h2v1h-2zM431 259h1v1h-1zM613 259h2v1h-2zM682 259h1v1h-1zM1064 259h1v1h-1zM430 260h1v2h-1zM615 260h2v1h-2zM678 260h4v1h-4zM1065 260h1v1h-1zM22 261h1v3h-1zM617 261h1v1h-1zM670 261h8v1h-8zM1066 261h1v2h-1zM429 262h1v1h-1zM618 262h1v1h-1zM662 262h8v1h-8zM428 263h1v2h-1zM619 263h1v1h-1zM656 263h6v1h-6zM1067 263h1v1h-1zM23 264h1v3h-1zM620 264h1v1h-1zM654 264h2v1h-2zM1068 264h1v2h-1zM427 265h1v1h-1zM621 265h1v2h-1zM651 265h3v1h-3zM426 266h1v2h-1zM648 266h3v1h-3zM1069 266h1v1h-1zM24 267h1v4h-1zM622 267h1v1h-1zM644 267h4v1h-4zM1070 267h1v2h-1zM425 268h1v1h-1zM623 268h1v1h-1zM640 268h4v1h-4zM424 269h1v2h-1zM624 269h1v1h-1zM636 269h4v1h-4zM1071 269h1v1h-1zM625 270h11v1h-11zM1072 270h1v2h-1zM25 271h1v3h-1zM423 271h1v2h-1zM1073 272h1v1h-1zM422 273h1v2h-1zM1074 273h1v2h-1zM26 274h1v3h-1zM421 275h1v1h-1zM1075 275h1v2h-1zM420 276h1v2h-1zM27 277h1v3h-1zM1076 277h1v2h-1zM419 278h1v2h-1zM1077 279h1v1h-1zM28 280h1v3h-1zM418 280h1v2h-1zM1078 280h1v2h-1zM417 282h1v1h-1zM1079 282h1v2h-1zM29 283h1v2h-1zM416 283h1v2h-1zM1080 284h1v2h-1zM30 285h1v3h-1zM415 285h1v1h-1zM414 286h1v2h-1zM1081 286h1v1h-1zM1082 287h1v2h-1zM31 288h1v3h-1zM413 288h1v1h-1zM412 289h1v2h-1zM1083 289h1v2h-1zM32 291h1v3h-1zM411 291h1v1h-1zM1084 291h1v2h-1zM410 292h1v2h-1zM1085 293h1v1h-1zM33 294h1v3h-1zM409 294h1v1h-1zM1086 294h1v2h-1zM408 295h1v1h-1zM407 296h1v1h-1zM1087 296h1v2h-1zM34 297h1v3h-1zM406 297h1v1h-1zM405 298h1v1h-1zM1088 298h1v2h-1zM404 299h1v1h-1zM35 300h1v3h-1zM403 300h1v1h-1zM1089 300h1v1h-1zM402 301h1v1h-1zM1090 301h1v2h-1zM401 302h1v1h-1zM36 303h1v3h-1zM400 303h1v2h-1zM1091 303h1v1h-1zM1092 304h1v2h-1zM399 305h1v2h-1zM37 306h1v3h-1zM1093 306h1v1h-1zM398 307h1v2h-1zM1094 307h1v2h-1zM38 309h1v3h-1zM397 309h1v2h-1zM1095 309h1v1h-1zM1096 310h1v2h-1zM396 311h1v2h-1zM39 312h1v3h-1zM1097 312h1v1h-1zM395 313h1v2h-1zM1098 313h1v1h-1zM1099 314h1v1h-1zM40 315h1v3h-1zM394 315h1v2h-1zM1100 315h1v1h-1zM1101 316h1v1h-1zM393 317h1v2h-1zM1102 317h1v1h-1zM41 318h1v3h-1zM1103 318h1v1h-1zM392 319h1v2h-1zM1104 319h1v1h-1zM1105 320h1v1h-1zM42 321h1v2h-1zM391 321h1v2h-1zM1106 321h1v1h-1zM1107 322h1v1h-1zM43 323h1v2h-1zM390 323h1v2h-1zM1108 323h2v1h-2zM1110 324h1v1h-1zM44 325h1v2h-1zM389 325h1v3h-1zM1111 325h1v1h-1zM1112 326h1v1h-1zM45 327h1v2h-1zM1113 327h1v1h-1zM388 328h1v2h-1zM46 329h1v2h-1zM387 330h1v2h-1zM47 331h1v2h-1zM88 332h6v1h-6zM386 332h1v2h-1zM48 333h1v2h-1zM84 333h4v1h-4zM94 333h16v1h-16zM81 334h3v1h-3zM110 334h4v1h-4zM385 334h1v2h-1zM49 335h1v1h-1zM80 335h1v1h-1zM114 335h1v2h-1zM50 336h1v1h-1zM79 336h1v1h-1zM384 336h1v2h-1zM51 337h1v1h-1zM78 337h1v1h-1zM115 337h1v1h-1zM52 338h2v1h-2zM76 338h2v1h-2zM116 338h1v1h-1zM383 338h1v2h-1zM54 339h1v1h-1zM75 339h1v1h-1zM117 339h1v2h-1zM55 340h1v1h-1zM74 340h1v1h-1zM382 340h1v2h-1zM56 341h1v1h-1zM72 341h2v1h-2zM118 341h1v1h-1zM57 342h3v1h-3zM70 342h2v1h-2zM119 342h1v1h-1zM381 342h1v2h-1zM60 343h4v1h-4zM67 343h3v1h-3zM120 343h1v2h-1zM64 344h3v1h-3zM380 344h1v2h-1zM121 345h1v1h-1zM122 346h1v1h-1zM379 346h1v2h-1zM123 347h1v1h-1zM124 348h1v1h-1zM378 348h1v2h-1zM125 349h1v2h-1zM377 350h1v2h-1zM126 351h1v1h-1zM127 352h1v1h-1zM376 352h1v2h-1zM128 353h1v1h-1zM129 354h1v1h-1zM375 354h1v3h-1zM130 355h1v2h-1zM131 357h1v1h-1zM374 357h1v2h-1zM132 358h1v2h-1zM373 359h1v3h-1zM133 360h1v1h-1zM134 361h1v2h-1zM372 362h1v2h-1zM135 363h1v1h-1zM136 364h1v2h-1zM371 364h1v3h-1zM137 366h1v1h-1zM138 367h1v2h-1zM273 367h2v1h-2zM370 367h1v2h-1zM272 368h1v1h-1zM275 368h2v1h-2zM139 369h1v2h-1zM271 369h1v1h-1zM277 369h2v1h-2zM369 369h1v2h-1zM270 370h1v1h-1zM279 370h2v1h-2zM140 371h1v1h-1zM268 371h2v1h-2zM281 371h1v1h-1zM368 371h1v2h-1zM141 372h1v2h-1zM267 372h1v1h-1zM282 372h1v2h-1zM266 373h1v1h-1zM367 373h1v2h-1zM142 374h1v1h-1zM264 374h2v1h-2zM283 374h1v2h-1zM143 375h1v2h-1zM262 375h2v1h-2zM366 375h1v2h-1zM259 376h3v1h-3zM284 376h1v2h-1zM144 377h1v2h-1zM257 377h2v1h-2zM365 377h1v2h-1zM256 378h1v1h-1zM285 378h1v1h-1zM145 379h1v1h-1zM255 379h1v1h-1zM286 379h1v2h-1zM364 379h1v2h-1zM146 380h1v2h-1zM254 380h1v1h-1zM253 381h1v1h-1zM287 381h1v2h-1zM363 381h1v2h-1zM147 382h1v1h-1zM252 382h1v1h-1zM148 383h1v1h-1zM251 383h1v1h-1zM288 383h1v2h-1zM362 383h1v2h-1zM149 384h1v2h-1zM250 384h1v1h-1zM249 385h1v1h-1zM289 385h1v1h-1zM361 385h1v1h-1zM150 386h1v1h-1zM248 386h1v1h-1zM290 386h2v1h-2zM360 386h1v2h-1zM151 387h1v1h-1zM247 387h1v2h-1zM292 387h1v1h-1zM152 388h1v2h-1zM293 388h1v1h-1zM359 388h1v2h-1zM246 389h1v1h-1zM294 389h2v1h-2zM153 390h1v1h-1zM245 390h1v1h-1zM296 390h1v1h-1zM358 390h1v2h-1zM154 391h1v1h-1zM244 391h1v1h-1zM297 391h1v1h-1zM155 392h1v2h-1zM243 392h1v2h-1zM298 392h1v1h-1zM357 392h1v2h-1zM299 393h1v1h-1zM156 394h1v1h-1zM242 394h1v1h-1zM300 394h1v1h-1zM356 394h1v2h-1zM157 395h1v1h-1zM241 395h1v1h-1zM301 395h1v2h-1zM158 396h1v1h-1zM240 396h1v1h-1zM355 396h1v2h-1zM159 397h1v2h-1zM239 397h1v2h-1zM302 397h1v1h-1zM303 398h1v1h-1zM354 398h1v2h-1zM160 399h1v1h-1zM238 399h1v1h-1zM304 399h1v1h-1zM161 400h1v1h-1zM237 400h1v1h-1zM305 400h1v1h-1zM353 400h1v1h-1zM162 401h2v1h-2zM236 401h1v1h-1zM306 401h1v1h-1zM352 401h1v1h-1zM164 402h2v1h-2zM235 402h1v2h-1zM307 402h1v1h-1zM351 402h1v1h-1zM166 403h1v1h-1zM308 403h1v1h-1zM350 403h1v1h-1zM167 404h2v1h-2zM234 404h1v1h-1zM309 404h1v2h-1zM349 404h1v2h-1zM169 405h2v1h-2zM233 405h1v1h-1zM171 406h2v1h-2zM232 406h1v1h-1zM310 406h1v1h-1zM348 406h1v1h-1zM173 407h2v1h-2zM231 407h1v1h-1zM311 407h1v1h-1zM347 407h1v1h-1zM175 408h2v1h-2zM230 408h1v1h-1zM312 408h1v1h-1zM346 408h1v1h-1zM177 409h1v1h-1zM228 409h2v1h-2zM313 409h1v1h-1zM345 409h1v1h-1zM178 410h2v1h-2zM227 410h1v1h-1zM314 410h2v1h-2zM343 410h2v1h-2zM180 411h1v1h-1zM226 411h1v1h-1zM316 411h1v1h-1zM341 411h2v1h-2zM181 412h1v1h-1zM224 412h2v1h-2zM317 412h1v1h-1zM328 412h6v1h-6zM339 412h2v1h-2zM182 413h2v1h-2zM220 413h4v1h-4zM318 413h2v1h-2zM326 413h2v1h-2zM334 413h5v1h-5zM184 414h1v1h-1zM201 414h19v1h-19zM320 414h1v1h-1zM323 414h3v1h-3zM185 415h1v1h-1zM200 415h1v1h-1zM321 415h2v1h-2zM186 416h2v1h-2zM198 416h2v1h-2zM188 417h2v1h-2zM197 417h1v1h-1zM190 418h1v1h-1zM196 418h1v1h-1zM191 419h2v1h-2zM194 419h2v1h-2zM193 420h1v1h-1z" fill="#ff0000"/>
<path class="c" d="M958 121h4v1h-4zM953 122h5v1h-5zM962 122h2v1h-2zM952 123h1v1h-1zM964 123h2v1h-2zM951 124h1v2h-1zM966 124h1v1h-1zM967 125h2v1h-2zM950 126h1v1h-1zM969 126h1v1h-1zM949 127h1v1h-1zM970 127h1v1h-1zM948 128h1v1h-1zM971 128h1v2h-1zM947 129h1v2h-1zM972 130h1v1h-1zM946 131h1v1h-1zM973 131h1v1h-1zM945 132h1v1h-1zM974 132h1v1h-1zM944 133h1v1h-1zM975 133h1v2h-1zM943 134h1v1h-1zM942 135h1v1h-1zM976 135h1v1h-1zM941 136h1v1h-1zM977 136h1v2h-1zM940 137h1v1h-1zM939 138h1v1h-1zM978 138h1v3h-1zM938 139h1v1h-1zM937 140h1v1h-1zM936 141h1v2h-1zM979 141h1v3h-1zM935 143h1v1h-1zM934 144h1v2h-1zM980 144h1v3h-1zM933 146h1v1h-1zM932 147h1v2h-1zM981 147h1v3h-1zM931 149h1v1h-1zM930 150h1v2h-1zM982 150h1v3h-1zM929 152h1v2h-1zM983 153h1v3h-1zM928 154h1v2h-1zM793 155h1v1h-1zM791 156h2v1h-2zM794 156h2v1h-2zM824 156h3v1h-3zM927 156h1v2h-1zM984 156h1v3h-1zM790 157h1v1h-1zM796 157h1v1h-1zM820 157h4v1h-4zM827 157h2v1h-2zM788 158h2v1h-2zM797 158h1v1h-1zM816 158h4v1h-4zM829 158h2v1h-2zM926 158h1v3h-1zM786 159h2v1h-2zM798 159h2v1h-2zM812 159h4v1h-4zM831 159h2v1h-2zM985 159h1v4h-1zM785 160h1v1h-1zM800 160h1v1h-1zM806 160h6v1h-6zM833 160h3v1h-3zM734 161h5v1h-5zM784 161h1v1h-1zM801 161h5v1h-5zM836 161h4v1h-4zM925 161h1v2h-1zM729 162h5v1h-5zM739 162h2v1h-2zM783 162h1v2h-1zM840 162h3v1h-3zM856 162h3v1h-3zM727 163h2v1h-2zM741 163h2v1h-2zM843 163h3v1h-3zM854 163h2v1h-2zM859 163h2v1h-2zM924 163h1v3h-1zM986 163h1v4h-1zM726 164h1v1h-1zM743 164h2v1h-2zM782 164h1v1h-1zM846 164h2v1h-2zM851 164h3v1h-3zM861 164h2v1h-2zM724 165h2v1h-2zM745 165h1v1h-1zM781 165h1v1h-1zM848 165h3v1h-3zM863 165h2v1h-2zM722 166h2v1h-2zM746 166h1v1h-1zM780 166h1v1h-1zM865 166h1v1h-1zM923 166h1v2h-1zM721 167h1v1h-1zM747 167h1v1h-1zM779 167h1v2h-1zM866 167h1v1h-1zM987 167h1v5h-1zM720 168h1v2h-1zM748 168h2v1h-2zM867 168h1v1h-1zM922 168h1v2h-1zM750 169h1v1h-1zM778 169h1v1h-1zM868 169h1v1h-1zM719 170h1v1h-1zM751 170h1v1h-1zM760 170h4v1h-4zM776 170h2v1h-2zM869 170h1v1h-1zM921 170h1v2h-1zM718 171h1v2h-1zM752 171h1v1h-1zM756 171h4v1h-4zM764 171h4v1h-4zM772 171h4v1h-4zM870 171h1v1h-1zM753 172h3v1h-3zM768 172h4v1h-4zM871 172h1v1h-1zM920 172h1v1h-1zM988 172h1v4h-1zM717 173h1v1h-1zM872 173h1v1h-1zM919 173h1v1h-1zM716 174h1v2h-1zM873 174h2v1h-2zM888 174h4v1h-4zM918 174h1v1h-1zM875 175h3v1h-3zM886 175h2v1h-2zM892 175h4v1h-4zM916 175h2v1h-2zM715 176h1v1h-1zM878 176h2v1h-2zM883 176h3v1h-3zM896 176h6v1h-6zM915 176h1v1h-1zM989 176h1v5h-1zM714 177h1v2h-1zM880 177h3v1h-3zM902 177h8v1h-8zM914 177h1v1h-1zM910 178h4v1h-4zM713 179h1v1h-1zM712 180h1v2h-1zM990 181h1v4h-1zM711 182h1v1h-1zM710 183h1v1h-1zM709 184h1v2h-1zM991 185h1v5h-1zM708 186h1v1h-1zM707 187h1v1h-1zM706 188h1v2h-1zM705 190h1v1h-1zM992 190h1v4h-1zM704 191h1v2h-1zM703 193h1v1h-1zM702 194h1v2h-1zM993 194h1v5h-1zM701 196h1v1h-1zM700 197h1v2h-1zM699 199h1v1h-1zM994 199h1v4h-1zM698 200h1v2h-1zM697 202h1v2h-1zM995 203h1v5h-1zM696 204h1v2h-1zM695 206h1v2h-1zM694 208h1v2h-1zM996 208h1v4h-1zM693 210h1v3h-1zM401 212h1v1h-1zM513 212h5v1h-5zM997 212h1v5h-1zM400 213h1v1h-1zM402 213h1v1h-1zM513 213h1v1h-1zM518 213h4v1h-4zM692 213h1v2h-1zM399 214h1v1h-1zM403 214h1v1h-1zM512 214h1v2h-1zM522 214h1v2h-1zM398 215h1v1h-1zM404 215h2v1h-2zM691 215h1v2h-1zM396 216h2v1h-2zM406 216h1v1h-1zM511 216h1v2h-1zM523 216h1v1h-1zM395 217h1v1h-1zM407 217h1v1h-1zM524 217h1v1h-1zM690 217h1v2h-1zM998 217h1v4h-1zM394 218h1v1h-1zM408 218h1v1h-1zM510 218h1v3h-1zM525 218h1v2h-1zM393 219h1v1h-1zM409 219h1v2h-1zM689 219h1v3h-1zM392 220h1v2h-1zM526 220h1v1h-1zM410 221h1v2h-1zM509 221h1v2h-1zM527 221h1v1h-1zM999 221h1v5h-1zM391 222h1v2h-1zM528 222h1v2h-1zM688 222h1v2h-1zM411 223h1v2h-1zM508 223h1v3h-1zM390 224h1v1h-1zM529 224h1v1h-1zM687 224h1v3h-1zM389 225h1v2h-1zM412 225h1v2h-1zM530 225h1v2h-1zM507 226h1v2h-1zM1000 226h1v4h-1zM388 227h1v1h-1zM413 227h1v2h-1zM531 227h1v2h-1zM686 227h1v2h-1zM387 228h1v2h-1zM506 228h1v2h-1zM414 229h1v2h-1zM532 229h1v2h-1zM685 229h1v3h-1zM386 230h1v2h-1zM505 230h1v2h-1zM1001 230h1v5h-1zM415 231h1v2h-1zM533 231h1v2h-1zM385 232h1v2h-1zM504 232h1v2h-1zM684 232h1v2h-1zM416 233h1v2h-1zM534 233h1v2h-1zM384 234h1v2h-1zM503 234h1v2h-1zM683 234h1v3h-1zM417 235h1v1h-1zM535 235h1v2h-1zM1002 235h1v4h-1zM383 236h1v2h-1zM418 236h1v2h-1zM502 236h1v2h-1zM536 237h1v2h-1zM682 237h1v2h-1zM382 238h1v3h-1zM419 238h1v2h-1zM501 238h1v1h-1zM500 239h1v2h-1zM537 239h1v1h-1zM681 239h1v3h-1zM1003 239h1v4h-1zM420 240h1v2h-1zM538 240h1v1h-1zM381 241h1v2h-1zM499 241h1v2h-1zM539 241h1v1h-1zM421 242h1v1h-1zM540 242h2v1h-2zM680 242h1v2h-1zM380 243h1v3h-1zM422 243h1v2h-1zM498 243h1v2h-1zM542 243h1v1h-1zM1004 243h1v5h-1zM543 244h1v1h-1zM679 244h1v2h-1zM423 245h1v2h-1zM497 245h1v1h-1zM544 245h1v1h-1zM379 246h1v2h-1zM495 246h2v1h-2zM545 246h2v1h-2zM678 246h1v2h-1zM424 247h1v2h-1zM494 247h1v1h-1zM547 247h2v1h-2zM378 248h1v2h-1zM492 248h2v1h-2zM549 248h2v1h-2zM677 248h1v2h-1zM1005 248h1v4h-1zM425 249h1v1h-1zM490 249h2v1h-2zM551 249h2v1h-2zM377 250h1v3h-1zM426 250h1v2h-1zM489 250h1v1h-1zM553 250h1v1h-1zM676 250h1v2h-1zM488 251h1v1h-1zM554 251h1v1h-1zM427 252h1v1h-1zM487 252h1v1h-1zM555 252h1v1h-1zM675 252h1v2h-1zM1006 252h1v5h-1zM1065 252h5v1h-5zM376 253h1v3h-1zM428 253h1v1h-1zM486 253h1v1h-1zM556 253h2v1h-2zM1065 253h1v1h-1zM1070 253h4v1h-4zM429 254h1v2h-1zM484 254h2v1h-2zM558 254h1v1h-1zM674 254h1v2h-1zM1064 254h1v2h-1zM1073 254h1v1h-1zM483 255h1v1h-1zM559 255h1v1h-1zM1074 255h1v2h-1zM375 256h1v3h-1zM430 256h1v1h-1zM482 256h1v1h-1zM560 256h1v1h-1zM673 256h1v2h-1zM1063 256h1v2h-1zM431 257h1v1h-1zM481 257h1v1h-1zM561 257h1v1h-1zM672 257h1v1h-1zM1007 257h1v4h-1zM1075 257h1v2h-1zM432 258h1v2h-1zM480 258h1v2h-1zM562 258h1v1h-1zM668 258h4v1h-4zM1062 258h1v2h-1zM374 259h1v3h-1zM563 259h1v1h-1zM662 259h6v1h-6zM1076 259h1v3h-1zM433 260h1v1h-1zM479 260h1v1h-1zM564 260h2v1h-2zM657 260h5v1h-5zM1061 260h1v2h-1zM434 261h1v2h-1zM478 261h1v2h-1zM566 261h1v1h-1zM656 261h1v1h-1zM1008 261h1v4h-1zM373 262h1v3h-1zM567 262h1v1h-1zM576 262h3v1h-3zM655 262h1v1h-1zM1060 262h1v2h-1zM1077 262h1v2h-1zM435 263h1v2h-1zM477 263h1v1h-1zM568 263h1v1h-1zM572 263h4v1h-4zM579 263h3v1h-3zM654 263h1v1h-1zM476 264h1v2h-1zM569 264h3v1h-3zM582 264h2v1h-2zM590 264h5v1h-5zM608 264h3v1h-3zM652 264h2v1h-2zM1059 264h1v2h-1zM1078 264h1v3h-1zM372 265h1v3h-1zM436 265h1v1h-1zM584 265h6v1h-6zM595 265h3v1h-3zM606 265h2v1h-2zM611 265h3v1h-3zM651 265h1v1h-1zM1009 265h1v4h-1zM437 266h1v2h-1zM475 266h1v1h-1zM598 266h2v1h-2zM603 266h3v1h-3zM614 266h2v1h-2zM650 266h1v1h-1zM1058 266h1v2h-1zM474 267h1v2h-1zM600 267h3v1h-3zM616 267h2v1h-2zM648 267h2v1h-2zM1079 267h1v2h-1zM371 268h1v3h-1zM438 268h1v1h-1zM618 268h1v1h-1zM646 268h2v1h-2zM1057 268h1v3h-1zM439 269h1v2h-1zM473 269h1v1h-1zM619 269h1v1h-1zM643 269h3v1h-3zM1010 269h1v4h-1zM1080 269h1v2h-1zM472 270h1v2h-1zM620 270h1v1h-1zM641 270h2v1h-2zM370 271h1v3h-1zM440 271h1v2h-1zM621 271h1v2h-1zM640 271h1v1h-1zM1056 271h1v2h-1zM1081 271h1v3h-1zM471 272h1v2h-1zM638 272h2v1h-2zM441 273h1v1h-1zM622 273h1v1h-1zM637 273h1v1h-1zM1011 273h1v3h-1zM1055 273h1v2h-1zM369 274h1v4h-1zM442 274h1v2h-1zM470 274h1v1h-1zM623 274h1v1h-1zM636 274h1v1h-1zM1082 274h1v2h-1zM469 275h1v2h-1zM624 275h1v1h-1zM634 275h2v1h-2zM1054 275h1v2h-1zM443 276h1v1h-1zM625 276h9v1h-9zM1012 276h1v3h-1zM1083 276h1v2h-1zM444 277h1v1h-1zM468 277h1v1h-1zM1053 277h1v2h-1zM368 278h1v6h-1zM445 278h1v2h-1zM467 278h1v2h-1zM1084 278h1v2h-1zM1013 279h1v4h-1zM1052 279h1v2h-1zM446 280h1v1h-1zM466 280h1v2h-1zM1085 280h1v2h-1zM447 281h1v1h-1zM1051 281h1v2h-1zM448 282h1v2h-1zM465 282h1v1h-1zM1086 282h1v2h-1zM464 283h1v1h-1zM1014 283h1v3h-1zM1050 283h1v2h-1zM367 284h1v5h-1zM449 284h1v1h-1zM463 284h1v2h-1zM1087 284h1v2h-1zM450 285h1v1h-1zM1049 285h1v3h-1zM451 286h1v1h-1zM462 286h1v1h-1zM1015 286h1v3h-1zM1088 286h1v2h-1zM452 287h1v1h-1zM461 287h1v1h-1zM453 288h1v1h-1zM460 288h1v1h-1zM1048 288h1v2h-1zM1089 288h1v3h-1zM366 289h1v5h-1zM454 289h1v1h-1zM459 289h1v2h-1zM1016 289h1v4h-1zM455 290h1v1h-1zM1047 290h1v2h-1zM456 291h1v1h-1zM458 291h1v1h-1zM1090 291h1v3h-1zM457 292h1v1h-1zM1046 292h1v3h-1zM1017 293h1v2h-1zM365 294h1v6h-1zM1091 294h1v4h-1zM1018 295h1v1h-1zM1045 295h1v2h-1zM1019 296h1v2h-1zM1044 297h1v3h-1zM1020 298h1v1h-1zM1092 298h1v3h-1zM1021 299h1v1h-1zM364 300h1v5h-1zM1022 300h1v1h-1zM1043 300h1v2h-1zM1023 301h1v2h-1zM1093 301h1v3h-1zM1042 302h1v2h-1zM1024 303h1v1h-1zM1025 304h1v1h-1zM1041 304h1v2h-1zM1094 304h1v3h-1zM81 305h1v1h-1zM363 305h1v5h-1zM1026 305h1v2h-1zM80 306h1v2h-1zM82 306h1v1h-1zM1040 306h1v1h-1zM83 307h1v1h-1zM1027 307h1v1h-1zM1039 307h1v2h-1zM1095 307h1v4h-1zM79 308h1v1h-1zM84 308h1v1h-1zM1028 308h1v1h-1zM78 309h1v1h-1zM85 309h1v2h-1zM1029 309h1v2h-1zM1038 309h1v1h-1zM77 310h1v2h-1zM362 310h1v6h-1zM1037 310h1v1h-1zM86 311h1v1h-1zM1030 311h1v1h-1zM1036 311h1v1h-1zM1096 311h1v3h-1zM76 312h1v1h-1zM87 312h1v1h-1zM1031 312h1v1h-1zM1035 312h1v2h-1zM75 313h1v1h-1zM88 313h1v1h-1zM1032 313h1v2h-1zM74 314h1v2h-1zM89 314h1v1h-1zM1034 314h1v1h-1zM1097 314h1v4h-1zM90 315h2v1h-2zM1033 315h1v1h-1zM73 316h1v1h-1zM92 316h1v1h-1zM361 316h1v6h-1zM72 317h1v2h-1zM93 317h1v1h-1zM94 318h2v1h-2zM1098 318h1v4h-1zM71 319h1v2h-1zM96 319h1v1h-1zM97 320h3v1h-3zM70 321h1v1h-1zM100 321h4v1h-4zM69 322h1v2h-1zM104 322h3v1h-3zM360 322h1v6h-1zM1099 322h1v5h-1zM107 323h2v1h-2zM68 324h1v1h-1zM109 324h2v1h-2zM67 325h1v2h-1zM111 325h2v1h-2zM113 326h1v2h-1zM66 327h1v2h-1zM1100 327h1v5h-1zM114 328h1v3h-1zM359 328h1v7h-1zM65 329h1v1h-1zM64 330h1v2h-1zM115 331h1v3h-1zM63 332h1v1h-1zM1101 332h1v4h-1zM62 333h1v1h-1zM61 334h1v2h-1zM116 334h1v3h-1zM358 335h1v7h-1zM60 336h1v1h-1zM1102 336h1v5h-1zM59 337h1v1h-1zM117 337h1v3h-1zM58 338h1v2h-1zM225 338h1v1h-1zM224 339h1v2h-1zM226 339h1v1h-1zM57 340h1v1h-1zM118 340h1v3h-1zM227 340h1v1h-1zM56 341h1v1h-1zM223 341h1v2h-1zM228 341h1v1h-1zM1103 341h1v5h-1zM54 342h2v1h-2zM229 342h1v1h-1zM357 342h1v6h-1zM53 343h1v1h-1zM119 343h1v3h-1zM222 343h1v2h-1zM230 343h1v1h-1zM1 344h1v1h-1zM52 344h1v1h-1zM231 344h1v1h-1zM2 345h1v2h-1zM50 345h2v1h-2zM221 345h1v2h-1zM232 345h1v1h-1zM46 346h4v1h-4zM120 346h1v3h-1zM233 346h1v1h-1zM1104 346h1v4h-1zM3 347h1v2h-1zM41 347h5v1h-5zM220 347h1v2h-1zM234 347h2v1h-2zM39 348h2v1h-2zM236 348h2v1h-2zM356 348h1v7h-1zM4 349h1v2h-1zM38 349h1v1h-1zM121 349h1v4h-1zM219 349h1v2h-1zM238 349h1v1h-1zM36 350h2v1h-2zM239 350h2v1h-2zM1105 350h1v5h-1zM5 351h1v1h-1zM34 351h2v1h-2zM218 351h1v2h-1zM241 351h1v1h-1zM6 352h1v2h-1zM33 352h1v1h-1zM242 352h2v1h-2zM32 353h1v1h-1zM122 353h1v4h-1zM217 353h1v2h-1zM244 353h1v1h-1zM7 354h1v2h-1zM31 354h1v1h-1zM245 354h1v1h-1zM30 355h1v1h-1zM216 355h1v2h-1zM246 355h2v1h-2zM355 355h1v7h-1zM1106 355h1v4h-1zM8 356h1v2h-1zM29 356h1v2h-1zM248 356h1v1h-1zM123 357h1v4h-1zM215 357h1v2h-1zM249 357h1v1h-1zM9 358h1v1h-1zM28 358h1v1h-1zM250 358h1v2h-1zM10 359h2v1h-2zM27 359h1v1h-1zM214 359h1v1h-1zM1107 359h1v5h-1zM12 360h2v1h-2zM26 360h1v1h-1zM213 360h1v2h-1zM251 360h1v2h-1zM14 361h1v1h-1zM24 361h2v1h-2zM124 361h1v5h-1zM15 362h2v1h-2zM20 362h4v1h-4zM212 362h1v1h-1zM252 362h1v2h-1zM354 362h1v6h-1zM17 363h3v1h-3zM211 363h1v2h-1zM253 364h1v1h-1zM1108 364h1v4h-1zM210 365h1v2h-1zM254 365h1v2h-1zM125 366h1v4h-1zM209 367h1v2h-1zM255 367h1v2h-1zM353 368h1v5h-1zM1109 368h1v5h-1zM208 369h1v2h-1zM256 369h1v2h-1zM126 370h1v5h-1zM207 371h1v2h-1zM257 371h1v1h-1zM258 372h1v1h-1zM206 373h1v3h-1zM259 373h1v1h-1zM352 373h1v4h-1zM1110 373h1v4h-1zM260 374h2v1h-2zM127 375h1v4h-1zM262 375h1v1h-1zM205 376h1v2h-1zM263 376h1v1h-1zM264 377h1v1h-1zM351 377h1v3h-1zM1111 377h1v5h-1zM204 378h1v3h-1zM265 378h2v1h-2zM128 379h1v4h-1zM267 379h2v1h-2zM269 380h2v1h-2zM350 380h1v4h-1zM203 381h1v2h-1zM271 381h2v1h-2zM273 382h1v2h-1zM1112 382h1v4h-1zM129 383h1v5h-1zM202 383h1v2h-1zM274 384h1v3h-1zM349 384h1v3h-1zM201 385h1v3h-1zM1113 386h1v3h-1zM275 387h1v3h-1zM348 387h1v4h-1zM130 388h1v5h-1zM200 388h1v4h-1zM276 390h1v3h-1zM347 391h1v3h-1zM199 392h1v4h-1zM131 393h1v6h-1zM277 393h1v2h-1zM346 394h1v4h-1zM278 395h1v3h-1zM198 396h1v4h-1zM279 398h1v3h-1zM345 398h1v3h-1zM132 399h1v5h-1zM197 400h1v3h-1zM280 401h1v3h-1zM344 401h1v3h-1zM196 403h1v4h-1zM133 404h1v5h-1zM281 404h1v3h-1zM343 404h1v3h-1zM195 407h1v4h-1zM282 407h1v2h-1zM342 407h1v3h-1zM134 409h1v5h-1zM283 409h1v2h-1zM341 410h1v4h-1zM194 411h1v4h-1zM284 411h1v3h-1zM135 414h1v6h-1zM285 414h1v2h-1zM340 414h1v3h-1zM193 415h1v3h-1zM286 416h1v3h-1zM339 417h1v3h-1zM192 418h1v3h-1zM287 419h1v2h-1zM136 420h1v5h-1zM338 420h1v3h-1zM191 421h1v3h-1zM288 421h1v2h-1zM289 423h1v2h-1zM337 423h1v3h-1zM190 424h1v3h-1zM137 425h1v3h-1zM290 425h1v1h-1zM291 426h1v1h-1zM336 426h1v2h-1zM189 427h1v2h-1zM292 427h1v1h-1zM138 428h1v2h-1zM293 428h1v1h-1zM335 428h1v2h-1zM188 429h1v3h-1zM294 429h1v1h-1zM139 430h1v2h-1zM295 430h1v1h-1zM334 430h1v2h-1zM296 431h1v1h-1zM140 432h1v2h-1zM187 432h1v3h-1zM297 432h1v1h-1zM333 432h1v2h-1zM298 433h1v1h-1zM141 434h1v2h-1zM299 434h1v2h-1zM332 434h1v2h-1zM186 435h1v3h-1zM142 436h1v2h-1zM300 436h1v1h-1zM331 436h1v2h-1zM301 437h1v1h-1zM143 438h1v2h-1zM185 438h1v3h-1zM302 438h1v1h-1zM330 438h1v2h-1zM303 439h1v2h-1zM144 440h1v2h-1zM329 440h1v2h-1zM184 441h1v3h-1zM304 441h1v1h-1zM145 442h1v2h-1zM305 442h1v1h-1zM328 442h1v2h-1zM306 443h1v1h-1zM146 444h1v2h-1zM183 444h1v2h-1zM307 444h1v1h-1zM327 444h1v1h-1zM308 445h1v1h-1zM326 445h1v1h-1zM147 446h1v2h-1zM182 446h1v3h-1zM309 446h1v1h-1zM325 446h1v2h-1zM310 447h1v1h-1zM148 448h1v2h-1zM311 448h1v1h-1zM324 448h1v1h-1zM181 449h1v3h-1zM312 449h1v1h-1zM323 449h1v1h-1zM149 450h1v2h-1zM313 450h3v1h-3zM322 450h1v2h-1zM316 451h4v1h-4zM150 452h1v2h-1zM180 452h1v3h-1zM320 452h2v1h-2zM151 454h1v2h-1zM179 455h1v2h-1zM152 456h1v2h-1zM178 457h1v3h-1zM153 458h1v3h-1zM177 460h1v3h-1zM154 461h1v2h-1zM155 463h1v2h-1zM176 463h1v3h-1zM156 465h1v2h-1zM175 466h1v3h-1zM157 467h1v3h-1zM174 469h1v3h-1zM158 470h1v2h-1zM159 472h1v2h-1zM173 472h1v4h-1zM160 474h1v2h-1zM161 476h1v2h-1zM172 476h1v3h-1zM162 478h1v1h-1zM163 479h1v1h-1zM171 479h1v3h-1zM164 480h1v1h-1zM165 481h1v2h-1zM170 482h1v3h-1zM166 483h1v1h-1zM167 484h1v1h-1zM168 485h2v1h-2zM169 486h1v1h-1z" fill="#0000cd"/>
<g class="c">
<rect x="917" y="254" width="319" height="6" fill="#f93737" />
<rect x="922" y="354" width="314" height="5" fill="#99cc00" />
</g>
<g class="c">
<path d="M4 43h52v24h57v40h-109z" fill="url(#gr)"/>
<path d="M4.5 43.5h51v24h57v39h-108z" fill="none" stroke="#b00000" stroke-opacity="0.8"/>
<path d="M171 43h52v64h-108v-40h56z" fill="url(#gr)"/>
<path d="M171.5 43.5h51v63h-107v-39h56z" fill="none" stroke="#b00000" stroke-opacity="0.8"/>
<rect x="8" y="66" width="44" height="1" fill="#8c0808" />
<rect x="8" y="67" width="44" height="1" fill="#f06060" />
<rect x="175" y="66" width="44" height="1" fill="#8c0808" />
<rect x="175" y="67" width="44" height="1" fill="#f06060" />
<rect x="58" y="43" width="111" height="22" fill="#fff" />
<rect x="58.5" y="43.5" width="110" height="21" fill="none" stroke="#abadb3"/>
<rect x="60" y="45" width="18" height="18" fill="url(#gb)" />
<rect x="79" y="44" width="1" height="20" fill="#abadb3" />
<rect x="149" y="45" width="18" height="18" fill="url(#gb)" />
<rect x="147" y="44" width="1" height="20" fill="#abadb3" />
<path d="M66 52h5v1h-5z" fill="#5b74d8"/><path d="M67 53h3v1h-3z" fill="#4058b8"/><path d="M68 54h1v1h-1z" fill="#2c3c88"/>
<path d="M157 52h1v1h-1z" fill="#2c3c88"/><path d="M156 53h3v1h-3z" fill="#4058b8"/><path d="M155 54h5v1h-5z" fill="#5b74d8"/>
</g>
<text x="15.9" y="59" font-size="12.5" fill="#fff0e8" textLength="27" lengthAdjust="spacing" >SELL</text>
<text x="184.2" y="59" font-size="12.5" fill="#fff0e8" textLength="24.6" lengthAdjust="spacing" >BUY</text>
<text x="144" y="58" font-size="12" fill="#000" text-anchor="end" >1.00</text>
<text x="23.8" y="98.4" font-size="12.3" fill="#fff" textLength="25.2" lengthAdjust="spacing" font-weight="bold" >1.31</text>
<text x="133.8" y="98.4" font-size="12.3" fill="#fff" textLength="25.2" lengthAdjust="spacing" font-weight="bold" >1.31</text>
<text x="49.8" y="98.8" font-size="36" fill="#fff" textLength="38.2" lengthAdjust="spacing" stroke="url(#gr)" stroke-width="0.65">72</text>
<text x="160.8" y="98.8" font-size="36" fill="#fff" textLength="39" lengthAdjust="spacing" stroke="url(#gr)" stroke-width="0.65">74</text>
<text x="90.6" y="82.2" font-size="11.8" fill="#fff" font-weight="bold" >8</text>
<text x="201.4" y="82.2" font-size="11.8" fill="#fff" font-weight="bold" >9</text>
<text x="3.6" y="11" font-size="10" fill="#404040" textLength="12.8" lengthAdjust="spacing" >H4</text>
<text x="32.4" y="11" font-size="10" fill="#404040" textLength="12.8" lengthAdjust="spacing" >D1</text>
<text x="60.4" y="11" font-size="10" fill="#404040" textLength="14.4" lengthAdjust="spacing" >W1</text>
<text x="86.4" y="11" font-size="10" fill="#404040" textLength="15.2" lengthAdjust="spacing" >MN</text>
<path class="c" d="M7 30h1v1h1v1h1v1h1v1h-7v-1h1v-1h1v-1h1z" fill="#000"/>
<text y="35" font-size="10" fill="#000" stroke="#000" stroke-width="0.18"><tspan x="16.3" textLength="69" lengthAdjust="spacing">USDCAD-,Daily</tspan><tspan x="85.3"> </tspan><tspan x="90.8" textLength="33" lengthAdjust="spacing">1.31833</tspan><tspan x="123.8"> </tspan><tspan x="126.9" textLength="33" lengthAdjust="spacing">1.31843</tspan><tspan x="159.9"> </tspan><tspan x="163.1" textLength="33" lengthAdjust="spacing">1.31717</tspan><tspan x="196.1"> </tspan><tspan x="199.2" textLength="33" lengthAdjust="spacing">1.31728</tspan></text>
<text x="1422" y="35" font-size="10" fill="#000" textLength="33" lengthAdjust="spacing"  stroke="#000" stroke-width="0.18">1.35825</text>
<text x="1422" y="68" font-size="10" fill="#000" textLength="33" lengthAdjust="spacing"  stroke="#000" stroke-width="0.18">1.35495</text>
<text x="1422" y="101" font-size="10" fill="#000" textLength="33" lengthAdjust="spacing"  stroke="#000" stroke-width="0.18">1.35165</text>
<text x="1422" y="134" font-size="10" fill="#000" textLength="33" lengthAdjust="spacing"  stroke="#000" stroke-width="0.18">1.34840</text>
<text x="1422" y="167" font-size="10" fill="#000" textLength="33" lengthAdjust="spacing"  stroke="#000" stroke-width="0.18">1.34510</text>
<text x="1422" y="200" font-size="10" fill="#000" textLength="33" lengthAdjust="spacing"  stroke="#000" stroke-width="0.18">1.34180</text>
<text x="1422" y="233" font-size="10" fill="#000" textLength="33" lengthAdjust="spacing"  stroke="#000" stroke-width="0.18">1.33855</text>
<text x="1422" y="266" font-size="10" fill="#000" textLength="33" lengthAdjust="spacing"  stroke="#000" stroke-width="0.18">1.33525</text>
<text x="1422" y="299" font-size="10" fill="#000" textLength="33" lengthAdjust="spacing"  stroke="#000" stroke-width="0.18">1.33200</text>
<text x="1422" y="332" font-size="10" fill="#000" textLength="33" lengthAdjust="spacing"  stroke="#000" stroke-width="0.18">1.32870</text>
<text x="1422" y="365" font-size="10" fill="#000" textLength="33" lengthAdjust="spacing"  stroke="#000" stroke-width="0.18">1.32540</text>
<text x="1422" y="398" font-size="10" fill="#000" textLength="33" lengthAdjust="spacing"  stroke="#000" stroke-width="0.18">1.32215</text>
<text x="1422" y="431" font-size="10" fill="#000" textLength="33" lengthAdjust="spacing"  stroke="#000" stroke-width="0.18">1.31885</text>
<text x="1422" y="464" font-size="10" fill="#000" textLength="33" lengthAdjust="spacing"  stroke="#000" stroke-width="0.18">1.31555</text>
<text x="1422" y="497" font-size="10" fill="#000" textLength="33" lengthAdjust="spacing"  stroke="#000" stroke-width="0.18">1.31230</text>
<text x="1422" y="530" font-size="10" fill="#000" textLength="33" lengthAdjust="spacing"  stroke="#000" stroke-width="0.18">1.30900</text>
<text x="1422" y="563" font-size="10" fill="#000" textLength="33" lengthAdjust="spacing"  stroke="#000" stroke-width="0.18">1.30570</text>
<rect class="c" x="1418" y="438" width="39" height="11" fill="#000"/>
<text x="1422" y="447" font-size="10" fill="#fff" textLength="33" lengthAdjust="spacing"  stroke="#fff" stroke-width="0.18">1.31728</text>
<text x="1419.8" y="575" font-size="10" fill="#000" textLength="38.2" lengthAdjust="spacing"  stroke="#000" stroke-width="0.18">0.005402</text>
<text x="1419.8" y="613" font-size="10" fill="#000" textLength="18.3" lengthAdjust="spacing"  stroke="#000" stroke-width="0.18">0.00</text>
<text x="1419.9" y="665" font-size="10" fill="#000" textLength="41.4" lengthAdjust="spacing"  stroke="#000" stroke-width="0.18">-0.007247</text>
<text x="1419.6" y="680" font-size="10" fill="#000" textLength="15.2" lengthAdjust="spacing"  stroke="#000" stroke-width="0.18">100</text>
<text x="1418.6" y="713" font-size="10" fill="#000" textLength="10.8" lengthAdjust="spacing"  stroke="#000" stroke-width="0.18">70</text>
<text x="1418.6" y="764" font-size="10" fill="#000" textLength="10.8" lengthAdjust="spacing"  stroke="#000" stroke-width="0.18">30</text>
<text x="1419.8" y="796" font-size="10" fill="#000"  stroke="#000" stroke-width="0.18">0</text>
<text x="5.4" y="577" font-size="10" fill="#000" textLength="153.8" lengthAdjust="spacing"  stroke="#000" stroke-width="0.18">MACD(12,26,9) -0.005943 -0.003693</text>
<text x="5.4" y="682" font-size="10" fill="#000" textLength="67.8" lengthAdjust="spacing"  stroke="#000" stroke-width="0.18">RSI(14) 32.1993</text>
<text x="0.6" y="812" font-size="10" fill="#000" textLength="49.6" lengthAdjust="spacing"  stroke="#000" stroke-width="0.18">13 Jan 2019</text>
<text x="64.6" y="812" font-size="10" fill="#000" textLength="49.6" lengthAdjust="spacing"  stroke="#000" stroke-width="0.18">22 Jan 2019</text>
<text x="128.6" y="812" font-size="10" fill="#000" textLength="49.6" lengthAdjust="spacing"  stroke="#000" stroke-width="0.18">31 Jan 2019</text>
<text x="192.6" y="812" font-size="10" fill="#000" textLength="49.6" lengthAdjust="spacing"  stroke="#000" stroke-width="0.18">10 Feb 2019</text>
<text x="256.6" y="812" font-size="10" fill="#000" textLength="49.6" lengthAdjust="spacing"  stroke="#000" stroke-width="0.18">19 Feb 2019</text>
<text x="320.6" y="812" font-size="10" fill="#000" textLength="49.6" lengthAdjust="spacing"  stroke="#000" stroke-width="0.18">28 Feb 2019</text>
<text x="384.6" y="812" font-size="10" fill="#000" textLength="49.6" lengthAdjust="spacing"  stroke="#000" stroke-width="0.18">10 Mar 2019</text>
<text x="448.6" y="812" font-size="10" fill="#000" textLength="49.6" lengthAdjust="spacing"  stroke="#000" stroke-width="0.18">19 Mar 2019</text>
<text x="512.6" y="812" font-size="10" fill="#000" textLength="49.6" lengthAdjust="spacing"  stroke="#000" stroke-width="0.18">28 Mar 2019</text>
<text x="576.6" y="812" font-size="10" fill="#000" textLength="44.6" lengthAdjust="spacing"  stroke="#000" stroke-width="0.18">7 Apr 2019</text>
<text x="640.6" y="812" font-size="10" fill="#000" textLength="49.6" lengthAdjust="spacing"  stroke="#000" stroke-width="0.18">16 Apr 2019</text>
<text x="704.6" y="812" font-size="10" fill="#000" textLength="49.6" lengthAdjust="spacing"  stroke="#000" stroke-width="0.18">26 Apr 2019</text>
<text x="768.6" y="812" font-size="10" fill="#000" textLength="44.6" lengthAdjust="spacing"  stroke="#000" stroke-width="0.18">6 May 2019</text>
<text x="832.6" y="812" font-size="10" fill="#000" textLength="49.6" lengthAdjust="spacing"  stroke="#000" stroke-width="0.18">15 May 2019</text>
<text x="896.6" y="812" font-size="10" fill="#000" textLength="49.6" lengthAdjust="spacing"  stroke="#000" stroke-width="0.18">24 May 2019</text>
<text x="960.6" y="812" font-size="10" fill="#000" textLength="44.6" lengthAdjust="spacing"  stroke="#000" stroke-width="0.18">3 Jun 2019</text>
<text x="1024.6" y="812" font-size="10" fill="#000" textLength="49.6" lengthAdjust="spacing"  stroke="#000" stroke-width="0.18">12 Jun 2019</text>
<text x="1088.6" y="812" font-size="10" fill="#000" textLength="49.6" lengthAdjust="spacing"  stroke="#000" stroke-width="0.18">21 Jun 2019</text>
<g class="c">
<rect x="0" y="820" width="1457" height="1" fill="#e8e8e8" />
<rect x="0" y="823" width="1457" height="22" fill="#f0f0f0" />
<rect x="0" y="822" width="1457" height="1" fill="#000" />
<rect x="0" y="823" width="1457" height="1" fill="#fbfbfb" />
<rect x="0" y="842" width="1457" height="1" fill="#fcfcfc" />
<rect x="313" y="823" width="1" height="18" fill="#fff" />
<rect x="422" y="823" width="1" height="18" fill="#fff" />
<rect x="315" y="822" width="106" height="18" fill="#fff" />
<rect x="314" y="822" width="1" height="19" fill="#000" />
<rect x="421" y="822" width="1" height="19" fill="#000" />
<rect x="314" y="840" width="108" height="1" fill="#000" />
<rect x="313" y="841" width="110" height="1" fill="#fafafa" />
<rect x="110" y="825" width="1" height="14" fill="#6e6e6e" />
<rect x="218" y="825" width="1" height="14" fill="#6e6e6e" />
<rect x="534" y="825" width="1" height="14" fill="#6e6e6e" />
<rect x="654" y="825" width="1" height="14" fill="#6e6e6e" />
<path d="M1434 828h1v6h-1v-1h-1v-1h-1v-2h1v-1h1z" fill="#9c9c9c"/>
<path d="M1451 828h1v1h1v1h1v2h-1v1h-1v1h-1z" fill="#9c9c9c"/>
</g>
<text x="13.2" y="836.6" font-size="12" fill="#5c5c5c" textLength="84.8" lengthAdjust="spacing" >EURUSD-,Daily</text>
<text x="120" y="836.6" font-size="12" fill="#5c5c5c" textLength="87" lengthAdjust="spacing" >AUDUSD-,Daily</text>
<text x="230" y="836.6" font-size="12" fill="#5c5c5c" textLength="73.6" lengthAdjust="spacing" >USDCHF-,H4</text>
<text x="325.4" y="836.6" font-size="12" fill="#000" textLength="85.5" lengthAdjust="spacing" >USDCAD-,Daily</text>
<text x="434" y="836.6" font-size="12" fill="#5c5c5c" textLength="88" lengthAdjust="spacing" >USDCNH-,Daily</text>
<text x="545" y="836.6" font-size="12" fill="#5c5c5c" textLength="97" lengthAdjust="spacing" >EURCHF-,Weekly</text>
</svg></body></html>
